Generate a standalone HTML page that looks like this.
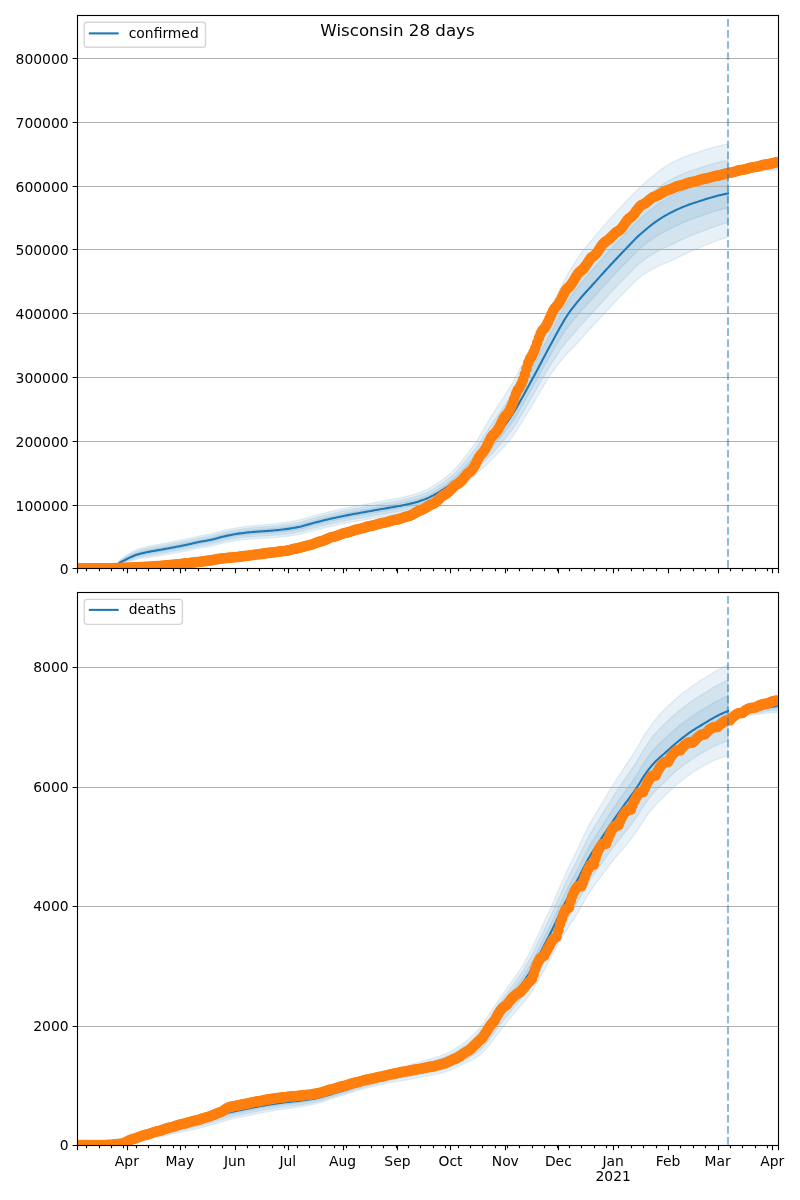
<!DOCTYPE html>
<html lang="en"><head><meta charset="utf-8"><title>Wisconsin 28 days</title>
<style>html,body{margin:0;padding:0;background:#fff}svg{display:block}</style></head>
<body>
<svg width="800" height="1200" viewBox="0 0 800 1200" font-family="'DejaVu Sans', 'Liberation Sans', sans-serif" font-size="13.89px" fill="#000">
<rect width="800" height="1200" fill="#fff"/>
<clipPath id="clip0"><rect x="77.35" y="15.00" width="700.29" height="553.40"/></clipPath>
<g clip-path="url(#clip0)">
<path d="M77.35 568.40 L79.12 568.40 L80.88 568.40 L82.65 568.40 L84.42 568.40 L86.19 568.40 L87.96 568.40 L89.73 568.39 L91.49 568.39 L93.26 568.39 L95.03 568.38 L96.80 568.38 L98.57 568.37 L100.34 568.37 L102.10 568.36 L103.87 568.35 L105.64 568.34 L107.41 568.33 L109.18 568.32 L110.95 568.31 L112.72 567.95 L114.48 566.58 L116.25 564.84 L118.02 562.23 L119.79 560.31 L121.56 558.88 L123.33 557.60 L125.09 556.34 L126.86 555.07 L128.63 553.86 L130.40 552.74 L132.17 551.72 L133.94 550.79 L135.70 549.98 L137.47 549.29 L139.24 548.72 L141.01 548.23 L142.78 547.78 L144.55 547.33 L146.31 546.89 L148.08 546.47 L149.85 546.08 L151.62 545.70 L153.39 545.35 L155.16 545.01 L156.93 544.68 L158.69 544.35 L160.46 544.03 L162.23 543.70 L164.00 543.37 L165.77 543.04 L167.54 542.71 L169.30 542.37 L171.07 542.04 L172.84 541.70 L174.61 541.35 L176.38 541.01 L178.15 540.66 L179.91 540.30 L181.68 539.95 L183.45 539.58 L185.22 539.22 L186.99 538.84 L188.76 538.46 L190.52 538.06 L192.29 537.64 L194.06 537.23 L195.83 536.81 L197.60 536.41 L199.37 536.03 L201.14 535.68 L202.90 535.36 L204.67 535.06 L206.44 534.76 L208.21 534.44 L209.98 534.09 L211.75 533.69 L213.51 533.25 L215.28 532.78 L217.05 532.29 L218.82 531.80 L220.59 531.32 L222.36 530.86 L224.12 530.42 L225.89 530.03 L227.66 529.65 L229.43 529.27 L231.20 528.90 L232.97 528.54 L234.73 528.20 L236.50 527.88 L238.27 527.58 L240.04 527.31 L241.81 527.06 L243.58 526.82 L245.35 526.59 L247.11 526.37 L248.88 526.17 L250.65 525.97 L252.42 525.78 L254.19 525.60 L255.96 525.42 L257.72 525.26 L259.49 525.11 L261.26 524.97 L263.03 524.82 L264.80 524.68 L266.57 524.53 L268.33 524.38 L270.10 524.21 L271.87 524.03 L273.64 523.84 L275.41 523.65 L277.18 523.46 L278.94 523.25 L280.71 523.03 L282.48 522.81 L284.25 522.57 L286.02 522.32 L287.79 522.04 L289.56 521.75 L291.32 521.45 L293.09 521.12 L294.86 520.78 L296.63 520.42 L298.40 520.05 L300.17 519.66 L301.93 519.24 L303.70 518.77 L305.47 518.27 L307.24 517.74 L309.01 517.20 L310.78 516.66 L312.54 516.14 L314.31 515.63 L316.08 515.16 L317.85 514.69 L319.62 514.22 L321.39 513.76 L323.15 513.31 L324.92 512.86 L326.69 512.42 L328.46 511.99 L330.23 511.57 L332.00 511.16 L333.77 510.75 L335.53 510.35 L337.30 509.96 L339.07 509.57 L340.84 509.19 L342.61 508.81 L344.38 508.43 L346.14 508.07 L347.91 507.70 L349.68 507.35 L351.45 506.99 L353.22 506.65 L354.99 506.32 L356.75 505.99 L358.52 505.66 L360.29 505.33 L362.06 505.01 L363.83 504.68 L365.60 504.35 L367.36 504.01 L369.13 503.67 L370.90 503.33 L372.67 502.99 L374.44 502.66 L376.21 502.32 L377.98 501.98 L379.74 501.65 L381.51 501.32 L383.28 501.00 L385.05 500.68 L386.82 500.37 L388.59 500.05 L390.35 499.73 L392.12 499.40 L393.89 499.06 L395.66 498.71 L397.43 498.35 L399.20 497.99 L400.96 497.63 L402.73 497.25 L404.50 496.86 L406.27 496.45 L408.04 496.01 L409.81 495.54 L411.57 495.05 L413.34 494.53 L415.11 493.99 L416.88 493.41 L418.65 492.81 L420.42 492.16 L422.19 491.48 L423.95 490.75 L425.72 489.98 L427.49 489.13 L429.26 488.21 L431.03 487.22 L432.80 486.17 L434.56 485.08 L436.33 483.94 L438.10 482.78 L439.87 481.59 L441.64 480.36 L443.41 479.05 L445.17 477.67 L446.94 476.22 L448.71 474.69 L450.48 473.09 L452.25 471.41 L454.02 469.66 L455.78 467.84 L457.55 465.91 L459.32 463.87 L461.09 461.75 L462.86 459.55 L464.63 457.30 L466.40 454.99 L468.16 452.64 L469.93 450.28 L471.70 447.90 L473.47 445.48 L475.24 442.97 L477.01 440.29 L478.77 437.46 L480.54 434.51 L482.31 431.48 L484.08 428.41 L485.85 425.33 L487.62 422.26 L489.38 419.25 L491.15 416.33 L492.92 413.52 L494.69 410.79 L496.46 408.06 L498.23 405.34 L499.99 402.61 L501.76 399.88 L503.53 397.17 L505.30 394.45 L507.07 391.69 L508.84 388.89 L510.61 386.01 L512.37 383.05 L514.14 379.95 L515.91 376.65 L517.68 373.25 L519.45 369.81 L521.22 366.41 L522.98 362.98 L524.75 359.53 L526.52 356.06 L528.29 352.58 L530.06 349.09 L531.83 345.59 L533.59 342.10 L535.36 338.58 L537.13 335.02 L538.90 331.44 L540.67 327.85 L542.44 324.26 L544.21 320.67 L545.97 317.10 L547.74 313.55 L549.51 310.04 L551.28 306.56 L553.05 303.03 L554.82 299.47 L556.58 295.89 L558.35 292.32 L560.12 288.78 L561.89 285.29 L563.66 281.83 L565.43 278.43 L567.19 275.14 L568.96 271.99 L570.73 268.95 L572.50 266.00 L574.27 263.14 L576.04 260.37 L577.80 257.71 L579.57 255.17 L581.34 252.73 L583.11 250.42 L584.88 248.24 L586.65 246.12 L588.42 244.02 L590.18 241.93 L591.95 239.84 L593.72 237.75 L595.49 235.65 L597.26 233.53 L599.03 231.43 L600.79 229.36 L602.56 227.30 L604.33 225.27 L606.10 223.25 L607.87 221.24 L609.64 219.26 L611.40 217.29 L613.17 215.34 L614.94 213.41 L616.71 211.49 L618.48 209.58 L620.25 207.69 L622.01 205.81 L623.78 203.94 L625.55 202.08 L627.32 200.21 L629.09 198.33 L630.86 196.44 L632.63 194.57 L634.39 192.74 L636.16 190.95 L637.93 189.23 L639.70 187.59 L641.47 186.01 L643.24 184.43 L645.00 182.86 L646.77 181.28 L648.54 179.72 L650.31 178.17 L652.08 176.65 L653.85 175.15 L655.61 173.69 L657.38 172.27 L659.15 170.90 L660.92 169.59 L662.69 168.33 L664.46 167.13 L666.22 165.98 L667.99 164.88 L669.76 163.83 L671.53 162.83 L673.30 161.89 L675.07 161.01 L676.84 160.18 L678.60 159.37 L680.37 158.59 L682.14 157.83 L683.91 157.10 L685.68 156.39 L687.45 155.72 L689.21 155.08 L690.98 154.46 L692.75 153.87 L694.52 153.28 L696.29 152.71 L698.06 152.13 L699.82 151.56 L701.59 150.98 L703.36 150.40 L705.13 149.83 L706.90 149.27 L708.67 148.72 L710.43 148.19 L712.20 147.68 L713.97 147.19 L715.74 146.71 L717.51 146.25 L719.28 145.81 L721.05 145.39 L722.81 145.00 L724.58 144.64 L726.35 144.31 L728.12 144.00 L728.12 236.94 L726.35 237.48 L724.58 238.03 L722.81 238.60 L721.05 239.20 L719.28 239.82 L717.51 240.47 L715.74 241.13 L713.97 241.80 L712.20 242.49 L710.43 243.18 L708.67 243.90 L706.90 244.62 L705.13 245.35 L703.36 246.09 L701.59 246.83 L699.82 247.57 L698.06 248.31 L696.29 249.06 L694.52 249.81 L692.75 250.58 L690.98 251.36 L689.21 252.15 L687.45 252.96 L685.68 253.78 L683.91 254.63 L682.14 255.49 L680.37 256.34 L678.60 257.20 L676.84 258.06 L675.07 258.91 L673.30 259.75 L671.53 260.55 L669.76 261.32 L667.99 262.08 L666.22 262.82 L664.46 263.55 L662.69 264.29 L660.92 265.04 L659.15 265.83 L657.38 266.65 L655.61 267.51 L653.85 268.41 L652.08 269.36 L650.31 270.35 L648.54 271.39 L646.77 272.49 L645.00 273.64 L643.24 274.84 L641.47 276.11 L639.70 277.45 L637.93 278.90 L636.16 280.50 L634.39 282.20 L632.63 283.95 L630.86 285.75 L629.09 287.57 L627.32 289.39 L625.55 291.20 L623.78 293.00 L622.01 294.82 L620.25 296.64 L618.48 298.47 L616.71 300.31 L614.94 302.16 L613.17 304.02 L611.40 305.89 L609.64 307.77 L607.87 309.66 L606.10 311.56 L604.33 313.47 L602.56 315.39 L600.79 317.32 L599.03 319.26 L597.26 321.21 L595.49 323.17 L593.72 325.11 L591.95 327.02 L590.18 328.92 L588.42 330.81 L586.65 332.70 L584.88 334.60 L583.11 336.52 L581.34 338.46 L579.57 340.43 L577.80 342.44 L576.04 344.48 L574.27 346.41 L572.50 348.26 L570.73 350.05 L568.96 351.81 L567.19 353.59 L565.43 355.48 L563.66 357.47 L561.89 359.54 L560.12 361.71 L558.35 363.96 L556.58 366.29 L554.82 368.69 L553.05 371.17 L551.28 373.72 L549.51 376.35 L547.74 379.12 L545.97 381.98 L544.21 384.88 L542.44 387.83 L540.67 390.80 L538.90 393.80 L537.13 396.79 L535.36 399.78 L533.59 402.74 L531.83 405.68 L530.06 408.63 L528.29 411.57 L526.52 414.51 L524.75 417.43 L522.98 420.32 L521.22 423.18 L519.45 426.00 L517.68 428.83 L515.91 431.61 L514.14 434.27 L512.37 436.72 L510.61 439.03 L508.84 441.22 L507.07 443.32 L505.30 445.34 L503.53 447.30 L501.76 449.23 L499.99 451.12 L498.23 453.00 L496.46 454.84 L494.69 456.65 L492.92 458.42 L491.15 460.17 L489.38 461.90 L487.62 463.60 L485.85 465.29 L484.08 466.96 L482.31 468.63 L480.54 470.29 L478.77 471.93 L477.01 473.57 L475.24 475.21 L473.47 476.83 L471.70 478.42 L469.93 480.00 L468.16 481.57 L466.40 483.15 L464.63 484.70 L462.86 486.24 L461.09 487.73 L459.32 489.17 L457.55 490.55 L455.78 491.86 L454.02 493.09 L452.25 494.28 L450.48 495.43 L448.71 496.54 L446.94 497.62 L445.17 498.65 L443.41 499.66 L441.64 500.63 L439.87 501.57 L438.10 502.49 L436.33 503.39 L434.56 504.27 L432.80 505.12 L431.03 505.92 L429.26 506.68 L427.49 507.37 L425.72 508.00 L423.95 508.56 L422.19 509.09 L420.42 509.58 L418.65 510.04 L416.88 510.48 L415.11 510.89 L413.34 511.28 L411.57 511.66 L409.81 512.03 L408.04 512.38 L406.27 512.71 L404.50 513.03 L402.73 513.35 L400.96 513.66 L399.20 513.97 L397.43 514.28 L395.66 514.59 L393.89 514.89 L392.12 515.19 L390.35 515.48 L388.59 515.76 L386.82 516.04 L385.05 516.32 L383.28 516.60 L381.51 516.89 L379.74 517.18 L377.98 517.49 L376.21 517.79 L374.44 518.10 L372.67 518.41 L370.90 518.72 L369.13 519.04 L367.36 519.35 L365.60 519.66 L363.83 519.97 L362.06 520.28 L360.29 520.58 L358.52 520.89 L356.75 521.20 L354.99 521.51 L353.22 521.82 L351.45 522.14 L349.68 522.48 L347.91 522.82 L346.14 523.16 L344.38 523.51 L342.61 523.87 L340.84 524.23 L339.07 524.59 L337.30 524.96 L335.53 525.34 L333.77 525.72 L332.00 526.11 L330.23 526.50 L328.46 526.90 L326.69 527.31 L324.92 527.73 L323.15 528.16 L321.39 528.59 L319.62 529.03 L317.85 529.47 L316.08 529.92 L314.31 530.37 L312.54 530.85 L310.78 531.35 L309.01 531.86 L307.24 532.37 L305.47 532.87 L303.70 533.34 L301.93 533.78 L300.17 534.17 L298.40 534.52 L296.63 534.85 L294.86 535.17 L293.09 535.47 L291.32 535.75 L289.56 536.01 L287.79 536.25 L286.02 536.47 L284.25 536.68 L282.48 536.86 L280.71 537.04 L278.94 537.20 L277.18 537.35 L275.41 537.49 L273.64 537.62 L271.87 537.75 L270.10 537.87 L268.33 537.98 L266.57 538.07 L264.80 538.16 L263.03 538.25 L261.26 538.33 L259.49 538.42 L257.72 538.51 L255.96 538.61 L254.19 538.73 L252.42 538.86 L250.65 538.99 L248.88 539.14 L247.11 539.29 L245.35 539.46 L243.58 539.64 L241.81 539.83 L240.04 540.03 L238.27 540.26 L236.50 540.52 L234.73 540.80 L232.97 541.10 L231.20 541.42 L229.43 541.76 L227.66 542.10 L225.89 542.46 L224.12 542.83 L222.36 543.23 L220.59 543.67 L218.82 544.13 L217.05 544.60 L215.28 545.06 L213.51 545.51 L211.75 545.93 L209.98 546.30 L208.21 546.64 L206.44 546.94 L204.67 547.22 L202.90 547.51 L201.14 547.81 L199.37 548.14 L197.60 548.50 L195.83 548.88 L194.06 549.27 L192.29 549.67 L190.52 550.06 L188.76 550.44 L186.99 550.81 L185.22 551.16 L183.45 551.50 L181.68 551.83 L179.91 552.17 L178.15 552.49 L176.38 552.81 L174.61 553.13 L172.84 553.44 L171.07 553.74 L169.30 554.04 L167.54 554.33 L165.77 554.62 L164.00 554.91 L162.23 555.19 L160.46 555.47 L158.69 555.73 L156.93 555.98 L155.16 556.23 L153.39 556.48 L151.62 556.73 L149.85 556.99 L148.08 557.27 L146.31 557.55 L144.55 557.84 L142.78 558.13 L141.01 558.41 L139.24 558.72 L137.47 559.09 L135.70 559.56 L133.94 560.13 L132.17 560.71 L130.40 561.26 L128.63 561.82 L126.86 562.40 L125.09 562.99 L123.33 563.52 L121.56 564.04 L119.79 564.72 L118.02 565.80 L116.25 567.45 L114.48 568.14 L112.72 568.41 L110.95 568.31 L109.18 568.32 L107.41 568.33 L105.64 568.34 L103.87 568.35 L102.10 568.36 L100.34 568.37 L98.57 568.37 L96.80 568.38 L95.03 568.38 L93.26 568.39 L91.49 568.39 L89.73 568.39 L87.96 568.40 L86.19 568.40 L84.42 568.40 L82.65 568.40 L80.88 568.40 L79.12 568.40 L77.35 568.40Z" fill="#1f77b4" fill-opacity="0.1" stroke="#1f77b4" stroke-opacity="0.1" stroke-width="1.39" stroke-linejoin="round"/>
<path d="M77.35 568.40 L79.12 568.40 L80.88 568.40 L82.65 568.40 L84.42 568.40 L86.19 568.40 L87.96 568.40 L89.73 568.39 L91.49 568.39 L93.26 568.39 L95.03 568.38 L96.80 568.38 L98.57 568.37 L100.34 568.37 L102.10 568.36 L103.87 568.35 L105.64 568.34 L107.41 568.33 L109.18 568.32 L110.95 568.31 L112.72 568.04 L114.48 566.87 L116.25 565.32 L118.02 562.89 L119.79 561.12 L121.56 559.82 L123.33 558.67 L125.09 557.53 L126.86 556.38 L128.63 555.27 L130.40 554.24 L132.17 553.30 L133.94 552.42 L135.70 551.64 L137.47 550.98 L139.24 550.44 L141.01 549.97 L142.78 549.54 L144.55 549.11 L146.31 548.69 L148.08 548.29 L149.85 547.91 L151.62 547.55 L153.39 547.20 L155.16 546.87 L156.93 546.55 L158.69 546.24 L160.46 545.92 L162.23 545.60 L164.00 545.27 L165.77 544.94 L167.54 544.62 L169.30 544.29 L171.07 543.95 L172.84 543.62 L174.61 543.28 L176.38 542.93 L178.15 542.58 L179.91 542.23 L181.68 541.88 L183.45 541.52 L185.22 541.15 L186.99 540.78 L188.76 540.40 L190.52 540.00 L192.29 539.58 L194.06 539.17 L195.83 538.76 L197.60 538.36 L199.37 537.98 L201.14 537.63 L202.90 537.31 L204.67 537.01 L206.44 536.71 L208.21 536.39 L209.98 536.04 L211.75 535.64 L213.51 535.21 L215.28 534.74 L217.05 534.26 L218.82 533.77 L220.59 533.29 L222.36 532.82 L224.12 532.39 L225.89 532.00 L227.66 531.62 L229.43 531.25 L231.20 530.88 L232.97 530.53 L234.73 530.19 L236.50 529.88 L238.27 529.58 L240.04 529.32 L241.81 529.07 L243.58 528.84 L245.35 528.62 L247.11 528.41 L248.88 528.21 L250.65 528.02 L252.42 527.84 L254.19 527.67 L255.96 527.50 L257.72 527.35 L259.49 527.21 L261.26 527.07 L263.03 526.94 L264.80 526.81 L266.57 526.67 L268.33 526.52 L270.10 526.36 L271.87 526.19 L273.64 526.02 L275.41 525.84 L277.18 525.65 L278.94 525.46 L280.71 525.25 L282.48 525.03 L284.25 524.80 L286.02 524.56 L287.79 524.30 L289.56 524.02 L291.32 523.72 L293.09 523.40 L294.86 523.07 L296.63 522.72 L298.40 522.35 L300.17 521.97 L301.93 521.56 L303.70 521.09 L305.47 520.60 L307.24 520.08 L309.01 519.54 L310.78 519.01 L312.54 518.49 L314.31 517.99 L316.08 517.52 L317.85 517.06 L319.62 516.59 L321.39 516.14 L323.15 515.69 L324.92 515.25 L326.69 514.81 L328.46 514.39 L330.23 513.97 L332.00 513.57 L333.77 513.16 L335.53 512.77 L337.30 512.38 L339.07 511.99 L340.84 511.61 L342.61 511.24 L344.38 510.87 L346.14 510.51 L347.91 510.15 L349.68 509.79 L351.45 509.45 L353.22 509.11 L354.99 508.78 L356.75 508.45 L358.52 508.13 L360.29 507.81 L362.06 507.49 L363.83 507.16 L365.60 506.84 L367.36 506.51 L369.13 506.17 L370.90 505.84 L372.67 505.51 L374.44 505.17 L376.21 504.84 L377.98 504.51 L379.74 504.19 L381.51 503.87 L383.28 503.55 L385.05 503.25 L386.82 502.94 L388.59 502.63 L390.35 502.31 L392.12 501.99 L393.89 501.66 L395.66 501.32 L397.43 500.98 L399.20 500.63 L400.96 500.28 L402.73 499.91 L404.50 499.53 L406.27 499.13 L408.04 498.71 L409.81 498.27 L411.57 497.79 L413.34 497.30 L415.11 496.78 L416.88 496.23 L418.65 495.65 L420.42 495.03 L422.19 494.38 L423.95 493.69 L425.72 492.95 L427.49 492.13 L429.26 491.25 L431.03 490.30 L432.80 489.29 L434.56 488.24 L436.33 487.15 L438.10 486.03 L439.87 484.88 L441.64 483.71 L443.41 482.47 L445.17 481.16 L446.94 479.79 L448.71 478.35 L450.48 476.86 L452.25 475.29 L454.02 473.66 L455.78 471.97 L457.55 470.17 L459.32 468.28 L461.09 466.31 L462.86 464.27 L464.63 462.17 L466.40 460.03 L468.16 457.86 L469.93 455.67 L471.70 453.47 L473.47 451.23 L475.24 448.93 L477.01 446.49 L478.77 443.95 L480.54 441.31 L482.31 438.62 L484.08 435.89 L485.85 433.14 L487.62 430.40 L489.38 427.69 L491.15 425.02 L492.92 422.42 L494.69 419.86 L496.46 417.30 L498.23 414.73 L499.99 412.14 L501.76 409.56 L503.53 406.97 L505.30 404.37 L507.07 401.73 L508.84 399.04 L510.61 396.27 L512.37 393.41 L514.14 390.42 L515.91 387.23 L517.68 383.93 L519.45 380.59 L521.22 377.28 L522.98 373.94 L524.75 370.57 L526.52 367.19 L528.29 363.79 L530.06 360.37 L531.83 356.96 L533.59 353.54 L535.36 350.09 L537.13 346.61 L538.90 343.11 L540.67 339.59 L542.44 336.07 L544.21 332.56 L545.97 329.06 L547.74 325.60 L549.51 322.17 L551.28 318.78 L553.05 315.34 L554.82 311.87 L556.58 308.39 L558.35 304.92 L560.12 301.49 L561.89 298.12 L563.66 294.80 L565.43 291.57 L567.19 288.45 L568.96 285.49 L570.73 282.64 L572.50 279.88 L574.27 277.21 L576.04 274.62 L577.80 272.13 L579.57 269.73 L581.34 267.43 L583.11 265.22 L584.88 263.10 L586.65 261.04 L588.42 258.99 L590.18 256.95 L591.95 254.91 L593.72 252.86 L595.49 250.80 L597.26 248.73 L599.03 246.67 L600.79 244.63 L602.56 242.61 L604.33 240.60 L606.10 238.61 L607.87 236.64 L609.64 234.68 L611.40 232.73 L613.17 230.80 L614.94 228.88 L616.71 226.98 L618.48 225.08 L620.25 223.20 L622.01 221.33 L623.78 219.47 L625.55 217.61 L627.32 215.75 L629.09 213.87 L630.86 211.98 L632.63 210.12 L634.39 208.29 L636.16 206.51 L637.93 204.79 L639.70 203.16 L641.47 201.59 L643.24 200.03 L645.00 198.48 L646.77 196.94 L648.54 195.41 L650.31 193.91 L652.08 192.44 L653.85 191.00 L655.61 189.59 L657.38 188.23 L659.15 186.92 L660.92 185.66 L662.69 184.45 L664.46 183.30 L666.22 182.20 L667.99 181.13 L669.76 180.12 L671.53 179.15 L673.30 178.22 L675.07 177.35 L676.84 176.51 L678.60 175.71 L680.37 174.92 L682.14 174.17 L683.91 173.43 L685.68 172.73 L687.45 172.06 L689.21 171.42 L690.98 170.80 L692.75 170.20 L694.52 169.62 L696.29 169.04 L698.06 168.47 L699.82 167.89 L701.59 167.31 L703.36 166.74 L705.13 166.17 L706.90 165.61 L708.67 165.06 L710.43 164.53 L712.20 164.02 L713.97 163.53 L715.74 163.05 L717.51 162.58 L719.28 162.14 L721.05 161.73 L722.81 161.34 L724.58 160.98 L726.35 160.64 L728.12 160.33 L728.12 222.61 L726.35 223.07 L724.58 223.55 L722.81 224.05 L721.05 224.58 L719.28 225.13 L717.51 225.71 L715.74 226.31 L713.97 226.92 L712.20 227.54 L710.43 228.17 L708.67 228.82 L706.90 229.49 L705.13 230.17 L703.36 230.85 L701.59 231.54 L699.82 232.22 L698.06 232.91 L696.29 233.60 L694.52 234.29 L692.75 235.00 L690.98 235.72 L689.21 236.45 L687.45 237.20 L685.68 237.98 L683.91 238.78 L682.14 239.59 L680.37 240.42 L678.60 241.25 L676.84 242.10 L675.07 242.94 L673.30 243.79 L671.53 244.62 L669.76 245.44 L667.99 246.26 L666.22 247.08 L664.46 247.91 L662.69 248.74 L660.92 249.61 L659.15 250.52 L657.38 251.47 L655.61 252.45 L653.85 253.48 L652.08 254.56 L650.31 255.67 L648.54 256.83 L646.77 258.04 L645.00 259.30 L643.24 260.60 L641.47 261.96 L639.70 263.36 L637.93 264.87 L636.16 266.50 L634.39 268.23 L632.63 270.00 L630.86 271.82 L629.09 273.66 L627.32 275.50 L625.55 277.32 L623.78 279.14 L622.01 280.96 L620.25 282.80 L618.48 284.64 L616.71 286.49 L614.94 288.34 L613.17 290.21 L611.40 292.09 L609.64 293.98 L607.87 295.87 L606.10 297.78 L604.33 299.70 L602.56 301.62 L600.79 303.56 L599.03 305.51 L597.26 307.47 L595.49 309.44 L593.72 311.39 L591.95 313.32 L590.18 315.23 L588.42 317.14 L586.65 319.05 L584.88 320.97 L583.11 322.90 L581.34 324.87 L579.57 326.86 L577.80 328.90 L576.04 330.97 L574.27 333.00 L572.50 334.99 L570.73 336.97 L568.96 338.96 L567.19 341.01 L565.43 343.19 L563.66 345.48 L561.89 347.87 L560.12 350.36 L558.35 352.92 L556.58 355.56 L554.82 358.25 L553.05 360.99 L551.28 363.77 L549.51 366.60 L547.74 369.53 L545.97 372.53 L544.21 375.58 L542.44 378.66 L540.67 381.77 L538.90 384.88 L537.13 388.00 L535.36 391.09 L533.59 394.17 L531.83 397.22 L530.06 400.27 L528.29 403.32 L526.52 406.35 L524.75 409.37 L522.98 412.36 L521.22 415.31 L519.45 418.24 L517.68 421.17 L515.91 424.05 L514.14 426.82 L512.37 429.38 L510.61 431.79 L508.84 434.10 L507.07 436.32 L505.30 438.47 L503.53 440.56 L501.76 442.62 L499.99 444.65 L498.23 446.66 L496.46 448.64 L494.69 450.59 L492.92 452.51 L491.15 454.40 L489.38 456.26 L487.62 458.10 L485.85 459.92 L484.08 461.72 L482.31 463.51 L480.54 465.28 L478.77 467.04 L477.01 468.79 L475.24 470.52 L473.47 472.23 L471.70 473.92 L469.93 475.58 L468.16 477.24 L466.40 478.90 L464.63 480.53 L462.86 482.14 L461.09 483.71 L459.32 485.23 L457.55 486.69 L455.78 488.06 L454.02 489.36 L452.25 490.62 L450.48 491.83 L448.71 493.00 L446.94 494.13 L445.17 495.22 L443.41 496.27 L441.64 497.29 L439.87 498.27 L438.10 499.23 L436.33 500.18 L434.56 501.10 L432.80 501.98 L431.03 502.83 L429.26 503.62 L427.49 504.35 L425.72 505.02 L423.95 505.62 L422.19 506.18 L420.42 506.70 L418.65 507.19 L416.88 507.66 L415.11 508.10 L413.34 508.52 L411.57 508.92 L409.81 509.31 L408.04 509.68 L406.27 510.03 L404.50 510.37 L402.73 510.70 L400.96 511.02 L399.20 511.33 L397.43 511.65 L395.66 511.96 L393.89 512.27 L392.12 512.57 L390.35 512.87 L388.59 513.15 L386.82 513.44 L385.05 513.72 L383.28 514.01 L381.51 514.30 L379.74 514.60 L377.98 514.90 L376.21 515.21 L374.44 515.52 L372.67 515.84 L370.90 516.15 L369.13 516.47 L367.36 516.78 L365.60 517.10 L363.83 517.41 L362.06 517.72 L360.29 518.03 L358.52 518.33 L356.75 518.64 L354.99 518.95 L353.22 519.27 L351.45 519.60 L349.68 519.93 L347.91 520.27 L346.14 520.62 L344.38 520.97 L342.61 521.33 L340.84 521.69 L339.07 522.06 L337.30 522.43 L335.53 522.81 L333.77 523.19 L332.00 523.58 L330.23 523.98 L328.46 524.38 L326.69 524.79 L324.92 525.21 L323.15 525.64 L321.39 526.08 L319.62 526.52 L317.85 526.96 L316.08 527.41 L314.31 527.87 L312.54 528.35 L310.78 528.85 L309.01 529.36 L307.24 529.88 L305.47 530.38 L303.70 530.86 L301.93 531.30 L300.17 531.69 L298.40 532.05 L296.63 532.39 L294.86 532.71 L293.09 533.01 L291.32 533.30 L289.56 533.57 L287.79 533.82 L286.02 534.05 L284.25 534.26 L282.48 534.45 L280.71 534.63 L278.94 534.80 L277.18 534.96 L275.41 535.11 L273.64 535.25 L271.87 535.39 L270.10 535.52 L268.33 535.64 L266.57 535.74 L264.80 535.84 L263.03 535.93 L261.26 536.03 L259.49 536.12 L257.72 536.23 L255.96 536.34 L254.19 536.47 L252.42 536.60 L250.65 536.75 L248.88 536.90 L247.11 537.07 L245.35 537.24 L243.58 537.43 L241.81 537.63 L240.04 537.84 L238.27 538.08 L236.50 538.34 L234.73 538.63 L232.97 538.94 L231.20 539.27 L229.43 539.61 L227.66 539.97 L225.89 540.33 L224.12 540.70 L222.36 541.12 L220.59 541.56 L218.82 542.02 L217.05 542.50 L215.28 542.97 L213.51 543.42 L211.75 543.84 L209.98 544.23 L208.21 544.56 L206.44 544.87 L204.67 545.16 L202.90 545.45 L201.14 545.75 L199.37 546.09 L197.60 546.45 L195.83 546.84 L194.06 547.24 L192.29 547.64 L190.52 548.04 L188.76 548.43 L186.99 548.79 L185.22 549.15 L183.45 549.50 L181.68 549.84 L179.91 550.18 L178.15 550.51 L176.38 550.84 L174.61 551.16 L172.84 551.48 L171.07 551.79 L169.30 552.10 L167.54 552.40 L165.77 552.70 L164.00 553.00 L162.23 553.30 L160.46 553.58 L158.69 553.86 L156.93 554.13 L155.16 554.39 L153.39 554.66 L151.62 554.94 L149.85 555.22 L148.08 555.52 L146.31 555.83 L144.55 556.15 L142.78 556.47 L141.01 556.79 L139.24 557.14 L137.47 557.54 L135.70 558.06 L133.94 558.68 L132.17 559.32 L130.40 559.95 L128.63 560.60 L126.86 561.29 L125.09 561.98 L123.33 562.63 L121.56 563.28 L119.79 564.07 L118.02 565.28 L116.25 567.07 L114.48 567.91 L112.72 568.35 L110.95 568.31 L109.18 568.32 L107.41 568.33 L105.64 568.34 L103.87 568.35 L102.10 568.36 L100.34 568.37 L98.57 568.37 L96.80 568.38 L95.03 568.38 L93.26 568.39 L91.49 568.39 L89.73 568.39 L87.96 568.40 L86.19 568.40 L84.42 568.40 L82.65 568.40 L80.88 568.40 L79.12 568.40 L77.35 568.40Z" fill="#1f77b4" fill-opacity="0.1" stroke="#1f77b4" stroke-opacity="0.1" stroke-width="1.39" stroke-linejoin="round"/>
<path d="M77.35 568.40 L79.12 568.40 L80.88 568.40 L82.65 568.40 L84.42 568.40 L86.19 568.40 L87.96 568.40 L89.73 568.39 L91.49 568.39 L93.26 568.39 L95.03 568.38 L96.80 568.38 L98.57 568.37 L100.34 568.37 L102.10 568.36 L103.87 568.35 L105.64 568.34 L107.41 568.33 L109.18 568.32 L110.95 568.31 L112.72 568.13 L114.48 567.17 L116.25 565.82 L118.02 563.57 L119.79 561.95 L121.56 560.78 L123.33 559.77 L125.09 558.76 L126.86 557.72 L128.63 556.72 L130.40 555.78 L132.17 554.92 L133.94 554.09 L135.70 553.35 L137.47 552.72 L139.24 552.21 L141.01 551.76 L142.78 551.35 L144.55 550.94 L146.31 550.54 L148.08 550.16 L149.85 549.80 L151.62 549.45 L153.39 549.12 L155.16 548.80 L156.93 548.49 L158.69 548.18 L160.46 547.87 L162.23 547.55 L164.00 547.23 L165.77 546.91 L167.54 546.58 L169.30 546.25 L171.07 545.93 L172.84 545.59 L174.61 545.25 L176.38 544.91 L178.15 544.57 L179.91 544.22 L181.68 543.86 L183.45 543.51 L185.22 543.14 L186.99 542.77 L188.76 542.39 L190.52 541.99 L192.29 541.58 L194.06 541.17 L195.83 540.76 L197.60 540.36 L199.37 539.98 L201.14 539.64 L202.90 539.32 L204.67 539.02 L206.44 538.72 L208.21 538.40 L209.98 538.05 L211.75 537.66 L213.51 537.22 L215.28 536.76 L217.05 536.28 L218.82 535.79 L220.59 535.31 L222.36 534.85 L224.12 534.42 L225.89 534.04 L227.66 533.66 L229.43 533.29 L231.20 532.92 L232.97 532.58 L234.73 532.24 L236.50 531.93 L238.27 531.65 L240.04 531.39 L241.81 531.15 L243.58 530.92 L245.35 530.71 L247.11 530.51 L248.88 530.32 L250.65 530.14 L252.42 529.96 L254.19 529.80 L255.96 529.64 L257.72 529.50 L259.49 529.37 L261.26 529.24 L263.03 529.12 L264.80 529.00 L266.57 528.87 L268.33 528.73 L270.10 528.59 L271.87 528.43 L273.64 528.26 L275.41 528.09 L277.18 527.92 L278.94 527.73 L280.71 527.53 L282.48 527.33 L284.25 527.11 L286.02 526.87 L287.79 526.62 L289.56 526.35 L291.32 526.06 L293.09 525.75 L294.86 525.42 L296.63 525.08 L298.40 524.73 L300.17 524.35 L301.93 523.94 L303.70 523.49 L305.47 523.00 L307.24 522.48 L309.01 521.96 L310.78 521.43 L312.54 520.91 L314.31 520.42 L316.08 519.96 L317.85 519.50 L319.62 519.04 L321.39 518.59 L323.15 518.15 L324.92 517.71 L326.69 517.28 L328.46 516.86 L330.23 516.45 L332.00 516.04 L333.77 515.65 L335.53 515.25 L337.30 514.87 L339.07 514.49 L340.84 514.11 L342.61 513.74 L344.38 513.38 L346.14 513.02 L347.91 512.66 L349.68 512.31 L351.45 511.97 L353.22 511.64 L354.99 511.31 L356.75 510.99 L358.52 510.68 L360.29 510.36 L362.06 510.04 L363.83 509.72 L365.60 509.40 L367.36 509.08 L369.13 508.75 L370.90 508.42 L372.67 508.10 L374.44 507.77 L376.21 507.45 L377.98 507.12 L379.74 506.81 L381.51 506.49 L383.28 506.19 L385.05 505.88 L386.82 505.58 L388.59 505.28 L390.35 504.98 L392.12 504.67 L393.89 504.35 L395.66 504.01 L397.43 503.68 L399.20 503.34 L400.96 503.00 L402.73 502.65 L404.50 502.29 L406.27 501.90 L408.04 501.50 L409.81 501.07 L411.57 500.62 L413.34 500.15 L415.11 499.65 L416.88 499.13 L418.65 498.57 L420.42 497.99 L422.19 497.37 L423.95 496.71 L425.72 496.00 L427.49 495.23 L429.26 494.38 L431.03 493.47 L432.80 492.50 L434.56 491.49 L436.33 490.45 L438.10 489.37 L439.87 488.28 L441.64 487.16 L443.41 485.98 L445.17 484.75 L446.94 483.47 L448.71 482.13 L450.48 480.74 L452.25 479.29 L454.02 477.79 L455.78 476.22 L457.55 474.57 L459.32 472.82 L461.09 471.01 L462.86 469.12 L464.63 467.19 L466.40 465.22 L468.16 463.23 L469.93 461.22 L471.70 459.20 L473.47 457.16 L475.24 455.06 L477.01 452.88 L478.77 450.63 L480.54 448.32 L482.31 445.97 L484.08 443.59 L485.85 441.19 L487.62 438.78 L489.38 436.37 L491.15 433.97 L492.92 431.59 L494.69 429.22 L496.46 426.82 L498.23 424.41 L499.99 421.97 L501.76 419.52 L503.53 417.07 L505.30 414.59 L507.07 412.08 L508.84 409.50 L510.61 406.84 L512.37 404.09 L514.14 401.21 L515.91 398.13 L517.68 394.93 L519.45 391.70 L521.22 388.48 L522.98 385.23 L524.75 381.96 L526.52 378.65 L528.29 375.34 L530.06 372.00 L531.83 368.67 L533.59 365.32 L535.36 361.95 L537.13 358.55 L538.90 355.12 L540.67 351.68 L542.44 348.24 L544.21 344.81 L545.97 341.39 L547.74 338.01 L549.51 334.67 L551.28 331.37 L553.05 328.03 L554.82 324.65 L556.58 321.27 L558.35 317.91 L560.12 314.59 L561.89 311.34 L563.66 308.17 L565.43 305.10 L567.19 302.16 L568.96 299.39 L570.73 296.74 L572.50 294.18 L574.27 291.70 L576.04 289.31 L577.80 286.99 L579.57 284.74 L581.34 282.57 L583.11 280.46 L584.88 278.42 L586.65 276.41 L588.42 274.41 L590.18 272.42 L591.95 270.43 L593.72 268.44 L595.49 266.42 L597.26 264.39 L599.03 262.37 L600.79 260.37 L602.56 258.38 L604.33 256.40 L606.10 254.44 L607.87 252.50 L609.64 250.56 L611.40 248.64 L613.17 246.73 L614.94 244.83 L616.71 242.93 L618.48 241.05 L620.25 239.18 L622.01 237.32 L623.78 235.46 L625.55 233.62 L627.32 231.75 L629.09 229.88 L630.86 228.00 L632.63 226.14 L634.39 224.31 L636.16 222.53 L637.93 220.82 L639.70 219.20 L641.47 217.64 L643.24 216.10 L645.00 214.57 L646.77 213.07 L648.54 211.58 L650.31 210.13 L652.08 208.71 L653.85 207.32 L655.61 205.98 L657.38 204.67 L659.15 203.42 L660.92 202.21 L662.69 201.06 L664.46 199.97 L666.22 198.91 L667.99 197.88 L669.76 196.90 L671.53 195.95 L673.30 195.05 L675.07 194.18 L676.84 193.34 L678.60 192.54 L680.37 191.75 L682.14 191.00 L683.91 190.26 L685.68 189.56 L687.45 188.89 L689.21 188.25 L690.98 187.63 L692.75 187.03 L694.52 186.45 L696.29 185.87 L698.06 185.30 L699.82 184.72 L701.59 184.14 L703.36 183.57 L705.13 183.00 L706.90 182.44 L708.67 181.89 L710.43 181.36 L712.20 180.85 L713.97 180.36 L715.74 179.88 L717.51 179.41 L719.28 178.97 L721.05 178.56 L722.81 178.17 L724.58 177.81 L726.35 177.47 L728.12 177.16 L728.12 207.83 L726.35 208.22 L724.58 208.63 L722.81 209.06 L721.05 209.51 L719.28 210.00 L717.51 210.51 L715.74 211.03 L713.97 211.58 L712.20 212.13 L710.43 212.70 L708.67 213.30 L706.90 213.90 L705.13 214.52 L703.36 215.15 L701.59 215.78 L699.82 216.41 L698.06 217.04 L696.29 217.67 L694.52 218.30 L692.75 218.95 L690.98 219.60 L689.21 220.28 L687.45 220.98 L685.68 221.70 L683.91 222.45 L682.14 223.22 L680.37 224.01 L678.60 224.82 L676.84 225.65 L675.07 226.49 L673.30 227.34 L671.53 228.20 L669.76 229.07 L667.99 229.96 L666.22 230.86 L664.46 231.79 L662.69 232.73 L660.92 233.71 L659.15 234.74 L657.38 235.82 L655.61 236.94 L653.85 238.10 L652.08 239.30 L650.31 240.55 L648.54 241.84 L646.77 243.16 L645.00 244.53 L643.24 245.93 L641.47 247.37 L639.70 248.85 L637.93 250.42 L636.16 252.08 L634.39 253.83 L632.63 255.63 L630.86 257.47 L629.09 259.33 L627.32 261.18 L625.55 263.02 L623.78 264.85 L622.01 266.69 L620.25 268.54 L618.48 270.39 L616.71 272.25 L614.94 274.11 L613.17 275.99 L611.40 277.87 L609.64 279.77 L607.87 281.67 L606.10 283.59 L604.33 285.51 L602.56 287.45 L600.79 289.39 L599.03 291.35 L597.26 293.32 L595.49 295.30 L593.72 297.26 L591.95 299.20 L590.18 301.13 L588.42 303.05 L586.65 304.98 L584.88 306.92 L583.11 308.87 L581.34 310.86 L579.57 312.88 L577.80 314.95 L576.04 317.06 L574.27 319.18 L572.50 321.32 L570.73 323.50 L568.96 325.73 L567.19 328.05 L565.43 330.52 L563.66 333.13 L561.89 335.84 L560.12 338.66 L558.35 341.55 L556.58 344.50 L554.82 347.50 L553.05 350.51 L551.28 353.53 L549.51 356.55 L547.74 359.65 L545.97 362.80 L544.21 366.00 L542.44 369.22 L540.67 372.46 L538.90 375.70 L537.13 378.93 L535.36 382.15 L533.59 385.33 L531.83 388.49 L530.06 391.65 L528.29 394.81 L526.52 397.94 L524.75 401.06 L522.98 404.15 L521.22 407.21 L519.45 410.24 L517.68 413.27 L515.91 416.27 L514.14 419.14 L512.37 421.81 L510.61 424.34 L508.84 426.77 L507.07 429.11 L505.30 431.39 L503.53 433.61 L501.76 435.81 L499.99 437.98 L498.23 440.14 L496.46 442.26 L494.69 444.35 L492.92 446.41 L491.15 448.44 L489.38 450.45 L487.62 452.43 L485.85 454.38 L484.08 456.32 L482.31 458.23 L480.54 460.13 L478.77 462.01 L477.01 463.86 L475.24 465.69 L473.47 467.50 L471.70 469.28 L469.93 471.03 L468.16 472.77 L466.40 474.52 L464.63 476.24 L462.86 477.93 L461.09 479.58 L459.32 481.17 L457.55 482.70 L455.78 484.15 L454.02 485.52 L452.25 486.84 L450.48 488.11 L448.71 489.34 L446.94 490.53 L445.17 491.68 L443.41 492.78 L441.64 493.85 L439.87 494.87 L438.10 495.88 L436.33 496.87 L434.56 497.83 L432.80 498.75 L431.03 499.64 L429.26 500.47 L427.49 501.25 L425.72 501.95 L423.95 502.58 L422.19 503.18 L420.42 503.74 L418.65 504.26 L416.88 504.76 L415.11 505.23 L413.34 505.68 L411.57 506.10 L409.81 506.51 L408.04 506.90 L406.27 507.27 L404.50 507.62 L402.73 507.96 L400.96 508.29 L399.20 508.62 L397.43 508.94 L395.66 509.26 L393.89 509.57 L392.12 509.88 L390.35 510.18 L388.59 510.47 L386.82 510.76 L385.05 511.04 L383.28 511.33 L381.51 511.63 L379.74 511.93 L377.98 512.24 L376.21 512.55 L374.44 512.87 L372.67 513.18 L370.90 513.50 L369.13 513.82 L367.36 514.14 L365.60 514.46 L363.83 514.77 L362.06 515.08 L360.29 515.39 L358.52 515.70 L356.75 516.01 L354.99 516.32 L353.22 516.64 L351.45 516.97 L349.68 517.31 L347.91 517.65 L346.14 518.00 L344.38 518.35 L342.61 518.71 L340.84 519.08 L339.07 519.45 L337.30 519.82 L335.53 520.20 L333.77 520.59 L332.00 520.98 L330.23 521.37 L328.46 521.78 L326.69 522.19 L324.92 522.62 L323.15 523.05 L321.39 523.48 L319.62 523.93 L317.85 524.38 L316.08 524.83 L314.31 525.29 L312.54 525.77 L310.78 526.28 L309.01 526.79 L307.24 527.31 L305.47 527.82 L303.70 528.30 L301.93 528.74 L300.17 529.14 L298.40 529.50 L296.63 529.85 L294.86 530.17 L293.09 530.48 L291.32 530.78 L289.56 531.05 L287.79 531.31 L286.02 531.55 L284.25 531.76 L282.48 531.97 L280.71 532.15 L278.94 532.33 L277.18 532.50 L275.41 532.66 L273.64 532.81 L271.87 532.95 L270.10 533.09 L268.33 533.22 L266.57 533.34 L264.80 533.45 L263.03 533.55 L261.26 533.65 L259.49 533.76 L257.72 533.87 L255.96 534.00 L254.19 534.13 L252.42 534.28 L250.65 534.44 L248.88 534.60 L247.11 534.77 L245.35 534.96 L243.58 535.15 L241.81 535.36 L240.04 535.59 L238.27 535.83 L236.50 536.10 L234.73 536.40 L232.97 536.72 L231.20 537.06 L229.43 537.41 L227.66 537.77 L225.89 538.14 L224.12 538.52 L222.36 538.93 L220.59 539.39 L218.82 539.86 L217.05 540.34 L215.28 540.81 L213.51 541.27 L211.75 541.70 L209.98 542.08 L208.21 542.43 L206.44 542.74 L204.67 543.03 L202.90 543.33 L201.14 543.64 L199.37 543.98 L197.60 544.35 L195.83 544.74 L194.06 545.14 L192.29 545.55 L190.52 545.95 L188.76 546.35 L186.99 546.72 L185.22 547.08 L183.45 547.44 L181.68 547.79 L179.91 548.13 L178.15 548.47 L176.38 548.81 L174.61 549.14 L172.84 549.47 L171.07 549.79 L169.30 550.10 L167.54 550.42 L165.77 550.73 L164.00 551.04 L162.23 551.34 L160.46 551.64 L158.69 551.93 L156.93 552.22 L155.16 552.50 L153.39 552.79 L151.62 553.09 L149.85 553.40 L148.08 553.72 L146.31 554.06 L144.55 554.41 L142.78 554.77 L141.01 555.12 L139.24 555.51 L137.47 555.95 L135.70 556.51 L133.94 557.18 L132.17 557.88 L130.40 558.60 L128.63 559.35 L126.86 560.14 L125.09 560.95 L123.33 561.72 L121.56 562.49 L119.79 563.41 L118.02 564.75 L116.25 566.69 L114.48 567.68 L112.72 568.28 L110.95 568.31 L109.18 568.32 L107.41 568.33 L105.64 568.34 L103.87 568.35 L102.10 568.36 L100.34 568.37 L98.57 568.37 L96.80 568.38 L95.03 568.38 L93.26 568.39 L91.49 568.39 L89.73 568.39 L87.96 568.40 L86.19 568.40 L84.42 568.40 L82.65 568.40 L80.88 568.40 L79.12 568.40 L77.35 568.40Z" fill="#1f77b4" fill-opacity="0.1" stroke="#1f77b4" stroke-opacity="0.1" stroke-width="1.39" stroke-linejoin="round"/>
<path d="M728.12 173.07 L729.89 172.58 L731.66 172.09 L733.42 171.60 L735.19 171.12 L736.96 170.63 L738.73 170.15 L740.50 169.66 L742.27 169.18 L744.03 168.71 L745.80 168.23 L747.57 167.76 L749.34 167.29 L751.11 166.82 L752.88 166.36 L754.64 165.90 L756.41 165.44 L758.18 164.98 L759.95 164.52 L761.72 164.07 L763.49 163.62 L765.26 163.17 L767.02 162.72 L768.79 162.27 L770.56 161.83 L772.33 161.39 L774.10 160.95 L775.87 160.51 L777.63 160.08 L777.63 170.08 L775.87 170.19 L774.10 170.31 L772.33 170.42 L770.56 170.54 L768.79 170.67 L767.02 170.79 L765.26 170.92 L763.49 171.05 L761.72 171.18 L759.95 171.31 L758.18 171.44 L756.41 171.58 L754.64 171.72 L752.88 171.86 L751.11 172.00 L749.34 172.15 L747.57 172.29 L745.80 172.45 L744.03 172.60 L742.27 172.75 L740.50 172.91 L738.73 173.07 L736.96 173.24 L735.19 173.40 L733.42 173.57 L731.66 173.73 L729.89 173.90 L728.12 174.07Z" fill="#1f77b4" fill-opacity="0.1" stroke="#1f77b4" stroke-opacity="0.1" stroke-width="1.39" stroke-linejoin="round"/>
<path d="M728.12 173.24 L729.89 172.80 L731.66 172.36 L733.42 171.93 L735.19 171.49 L736.96 171.06 L738.73 170.63 L740.50 170.20 L742.27 169.77 L744.03 169.35 L745.80 168.93 L747.57 168.51 L749.34 168.09 L751.11 167.68 L752.88 167.27 L754.64 166.86 L756.41 166.45 L758.18 166.05 L759.95 165.64 L761.72 165.24 L763.49 164.84 L765.26 164.45 L767.02 164.05 L768.79 163.66 L770.56 163.27 L772.33 162.88 L774.10 162.49 L775.87 162.11 L777.63 161.73 L777.63 168.43 L775.87 168.59 L774.10 168.76 L772.33 168.93 L770.56 169.11 L768.79 169.28 L767.02 169.46 L765.26 169.64 L763.49 169.82 L761.72 170.00 L759.95 170.19 L758.18 170.38 L756.41 170.57 L754.64 170.76 L752.88 170.95 L751.11 171.15 L749.34 171.35 L747.57 171.55 L745.80 171.75 L744.03 171.96 L742.27 172.17 L740.50 172.38 L738.73 172.59 L736.96 172.81 L735.19 173.02 L733.42 173.24 L731.66 173.46 L729.89 173.69 L728.12 173.91Z" fill="#1f77b4" fill-opacity="0.1" stroke="#1f77b4" stroke-opacity="0.1" stroke-width="1.39" stroke-linejoin="round"/>
<path d="M728.12 173.41 L729.89 173.02 L731.66 172.64 L733.42 172.26 L735.19 171.88 L736.96 171.50 L738.73 171.13 L740.50 170.75 L742.27 170.38 L744.03 170.01 L745.80 169.64 L747.57 169.28 L749.34 168.92 L751.11 168.56 L752.88 168.20 L754.64 167.85 L756.41 167.50 L758.18 167.15 L759.95 166.80 L761.72 166.45 L763.49 166.11 L765.26 165.76 L767.02 165.42 L768.79 165.08 L770.56 164.75 L772.33 164.41 L774.10 164.08 L775.87 163.75 L777.63 163.43 L777.63 166.73 L775.87 166.95 L774.10 167.17 L772.33 167.40 L770.56 167.62 L768.79 167.85 L767.02 168.09 L765.26 168.32 L763.49 168.56 L761.72 168.80 L759.95 169.04 L758.18 169.28 L756.41 169.52 L754.64 169.77 L752.88 170.02 L751.11 170.27 L749.34 170.52 L747.57 170.78 L745.80 171.03 L744.03 171.29 L742.27 171.56 L740.50 171.82 L738.73 172.09 L736.96 172.36 L735.19 172.64 L733.42 172.91 L731.66 173.18 L729.89 173.46 L728.12 173.74Z" fill="#1f77b4" fill-opacity="0.1" stroke="#1f77b4" stroke-opacity="0.1" stroke-width="1.39" stroke-linejoin="round"/>
</g>
<path d="M77.50 505.50H778.50" stroke="#b0b0b0" stroke-width="1.11"/>
<path d="M77.50 441.50H778.50" stroke="#b0b0b0" stroke-width="1.11"/>
<path d="M77.50 377.50H778.50" stroke="#b0b0b0" stroke-width="1.11"/>
<path d="M77.50 313.50H778.50" stroke="#b0b0b0" stroke-width="1.11"/>
<path d="M77.50 249.50H778.50" stroke="#b0b0b0" stroke-width="1.11"/>
<path d="M77.50 186.50H778.50" stroke="#b0b0b0" stroke-width="1.11"/>
<path d="M77.50 122.50H778.50" stroke="#b0b0b0" stroke-width="1.11"/>
<path d="M77.50 58.50H778.50" stroke="#b0b0b0" stroke-width="1.11"/>
<g clip-path="url(#clip0)">
<path d="M77.35 568.40 L79.12 568.40 L80.88 568.40 L82.65 568.40 L84.42 568.40 L86.19 568.40 L87.96 568.40 L89.73 568.39 L91.49 568.39 L93.26 568.39 L95.03 568.38 L96.80 568.38 L98.57 568.37 L100.34 568.37 L102.10 568.36 L103.87 568.35 L105.64 568.34 L107.41 568.33 L109.18 568.32 L110.95 568.31 L112.72 568.21 L114.48 567.46 L116.25 566.31 L118.02 564.23 L119.79 562.76 L121.56 561.72 L123.33 560.84 L125.09 559.95 L126.86 559.03 L128.63 558.13 L130.40 557.29 L132.17 556.49 L133.94 555.72 L135.70 555.01 L137.47 554.41 L139.24 553.92 L141.01 553.50 L142.78 553.11 L144.55 552.72 L146.31 552.34 L148.08 551.98 L149.85 551.63 L151.62 551.30 L153.39 550.98 L155.16 550.67 L156.93 550.37 L158.69 550.06 L160.46 549.76 L162.23 549.45 L164.00 549.13 L165.77 548.81 L167.54 548.49 L169.30 548.17 L171.07 547.84 L172.84 547.51 L174.61 547.17 L176.38 546.84 L178.15 546.49 L179.91 546.15 L181.68 545.79 L183.45 545.44 L185.22 545.08 L186.99 544.71 L188.76 544.33 L190.52 543.93 L192.29 543.52 L194.06 543.11 L195.83 542.70 L197.60 542.30 L199.37 541.93 L201.14 541.58 L202.90 541.27 L204.67 540.97 L206.44 540.67 L208.21 540.35 L209.98 540.00 L211.75 539.61 L213.51 539.18 L215.28 538.72 L217.05 538.24 L218.82 537.75 L220.59 537.27 L222.36 536.82 L224.12 536.39 L225.89 536.01 L227.66 535.63 L229.43 535.26 L231.20 534.91 L232.97 534.56 L234.73 534.24 L236.50 533.93 L238.27 533.65 L240.04 533.39 L241.81 533.16 L243.58 532.94 L245.35 532.74 L247.11 532.54 L248.88 532.36 L250.65 532.19 L252.42 532.03 L254.19 531.87 L255.96 531.72 L257.72 531.59 L259.49 531.47 L261.26 531.35 L263.03 531.24 L264.80 531.12 L266.57 531.01 L268.33 530.88 L270.10 530.74 L271.87 530.59 L273.64 530.44 L275.41 530.28 L277.18 530.11 L278.94 529.94 L280.71 529.75 L282.48 529.55 L284.25 529.34 L286.02 529.12 L287.79 528.87 L289.56 528.61 L291.32 528.33 L293.09 528.03 L294.86 527.71 L296.63 527.38 L298.40 527.03 L300.17 526.67 L301.93 526.26 L303.70 525.81 L305.47 525.33 L307.24 524.82 L309.01 524.30 L310.78 523.78 L312.54 523.27 L314.31 522.78 L316.08 522.32 L317.85 521.87 L319.62 521.41 L321.39 520.97 L323.15 520.53 L324.92 520.10 L326.69 519.67 L328.46 519.25 L330.23 518.85 L332.00 518.45 L333.77 518.06 L335.53 517.67 L337.30 517.29 L339.07 516.91 L340.84 516.54 L342.61 516.17 L344.38 515.81 L346.14 515.46 L347.91 515.11 L349.68 514.76 L351.45 514.42 L353.22 514.09 L354.99 513.77 L356.75 513.46 L358.52 513.15 L360.29 512.83 L362.06 512.52 L363.83 512.21 L365.60 511.89 L367.36 511.57 L369.13 511.25 L370.90 510.93 L372.67 510.61 L374.44 510.29 L376.21 509.97 L377.98 509.66 L379.74 509.34 L381.51 509.04 L383.28 508.74 L385.05 508.45 L386.82 508.15 L388.59 507.86 L390.35 507.57 L392.12 507.26 L393.89 506.95 L395.66 506.63 L397.43 506.31 L399.20 505.98 L400.96 505.65 L402.73 505.31 L404.50 504.96 L406.27 504.59 L408.04 504.21 L409.81 503.80 L411.57 503.37 L413.34 502.91 L415.11 502.44 L416.88 501.94 L418.65 501.42 L420.42 500.86 L422.19 500.27 L423.95 499.64 L425.72 498.97 L427.49 498.23 L429.26 497.42 L431.03 496.54 L432.80 495.62 L434.56 494.65 L436.33 493.65 L438.10 492.62 L439.87 491.58 L441.64 490.51 L443.41 489.40 L445.17 488.24 L446.94 487.04 L448.71 485.80 L450.48 484.51 L452.25 483.17 L454.02 481.79 L455.78 480.35 L457.55 478.83 L459.32 477.23 L461.09 475.56 L462.86 473.84 L464.63 472.07 L466.40 470.26 L468.16 468.44 L469.93 466.61 L471.70 464.77 L473.47 462.91 L475.24 461.01 L477.01 459.08 L478.77 457.12 L480.54 455.13 L482.31 453.11 L484.08 451.07 L485.85 449.01 L487.62 446.92 L489.38 444.81 L491.15 442.66 L492.92 440.49 L494.69 438.29 L496.46 436.06 L498.23 433.80 L499.99 431.51 L501.76 429.20 L503.53 426.87 L505.30 424.52 L507.07 422.12 L508.84 419.65 L510.61 417.10 L512.37 414.46 L514.14 411.68 L515.91 408.71 L517.68 405.61 L519.45 402.48 L521.22 399.35 L522.98 396.19 L524.75 393.00 L526.52 389.78 L528.29 386.55 L530.06 383.29 L531.83 380.03 L533.59 376.76 L535.36 373.47 L537.13 370.14 L538.90 366.78 L540.67 363.42 L542.44 360.05 L544.21 356.70 L545.97 353.36 L547.74 350.06 L549.51 346.80 L551.28 343.58 L553.05 340.33 L554.82 337.06 L556.58 333.78 L558.35 330.52 L560.12 327.31 L561.89 324.17 L563.66 321.14 L565.43 318.23 L567.19 315.47 L568.96 312.88 L570.73 310.43 L572.50 308.06 L574.27 305.77 L576.04 303.56 L577.80 301.41 L579.57 299.31 L581.34 297.26 L583.11 295.26 L584.88 293.28 L586.65 291.32 L588.42 289.38 L590.18 287.44 L591.95 285.50 L593.72 283.55 L595.49 281.58 L597.26 279.58 L599.03 277.61 L600.79 275.64 L602.56 273.68 L604.33 271.74 L606.10 269.81 L607.87 267.89 L609.64 265.98 L611.40 264.08 L613.17 262.18 L614.94 260.30 L616.71 258.42 L618.48 256.56 L620.25 254.69 L622.01 252.84 L623.78 250.99 L625.55 249.15 L627.32 247.29 L629.09 245.42 L630.86 243.54 L632.63 241.69 L634.39 239.86 L636.16 238.09 L637.93 236.39 L639.70 234.77 L641.47 233.22 L643.24 231.69 L645.00 230.19 L646.77 228.72 L648.54 227.28 L650.31 225.87 L652.08 224.50 L653.85 223.17 L655.61 221.88 L657.38 220.63 L659.15 219.43 L660.92 218.28 L662.69 217.19 L664.46 216.14 L666.22 215.12 L667.99 214.14 L669.76 213.19 L671.53 212.27 L673.30 211.38 L675.07 210.51 L676.84 209.68 L678.60 208.87 L680.37 208.09 L682.14 207.33 L683.91 206.60 L685.68 205.89 L687.45 205.22 L689.21 204.58 L690.98 203.96 L692.75 203.37 L694.52 202.78 L696.29 202.21 L698.06 201.63 L699.82 201.06 L701.59 200.48 L703.36 199.90 L705.13 199.33 L706.90 198.77 L708.67 198.22 L710.43 197.69 L712.20 197.18 L713.97 196.69 L715.74 196.21 L717.51 195.75 L719.28 195.31 L721.05 194.89 L722.81 194.50 L724.58 194.14 L726.35 193.81 L728.12 193.50" fill="none" stroke="#1f77b4" stroke-width="2.08" stroke-linejoin="round" stroke-linecap="square"/>
<path d="M728.12 173.57 L729.89 173.24 L731.66 172.91 L733.42 172.59 L735.19 172.26 L736.96 171.93 L738.73 171.61 L740.50 171.29 L742.27 170.97 L744.03 170.65 L745.80 170.34 L747.57 170.03 L749.34 169.72 L751.11 169.41 L752.88 169.11 L754.64 168.81 L756.41 168.51 L758.18 168.21 L759.95 167.92 L761.72 167.62 L763.49 167.33 L765.26 167.04 L767.02 166.75 L768.79 166.47 L770.56 166.19 L772.33 165.91 L774.10 165.63 L775.87 165.35 L777.63 165.08" fill="none" stroke="#1f77b4" stroke-width="2.08" stroke-linejoin="round" stroke-linecap="square"/>
<g fill="#ff7f0e">
<circle cx="77.35" cy="568.40" r="5.3"/>
<circle cx="79.12" cy="568.40" r="5.3"/>
<circle cx="80.88" cy="568.39" r="5.3"/>
<circle cx="82.65" cy="568.39" r="5.3"/>
<circle cx="84.42" cy="568.38" r="5.3"/>
<circle cx="86.19" cy="568.37" r="5.3"/>
<circle cx="87.96" cy="568.37" r="5.3"/>
<circle cx="89.73" cy="568.36" r="5.3"/>
<circle cx="91.49" cy="568.35" r="5.3"/>
<circle cx="93.26" cy="568.34" r="5.3"/>
<circle cx="95.03" cy="568.33" r="5.3"/>
<circle cx="96.80" cy="568.32" r="5.3"/>
<circle cx="98.57" cy="568.31" r="5.3"/>
<circle cx="100.34" cy="568.30" r="5.3"/>
<circle cx="102.10" cy="568.29" r="5.3"/>
<circle cx="103.87" cy="568.28" r="5.3"/>
<circle cx="105.64" cy="568.26" r="5.3"/>
<circle cx="107.41" cy="568.25" r="5.3"/>
<circle cx="109.18" cy="568.23" r="5.3"/>
<circle cx="110.95" cy="568.21" r="5.3"/>
<circle cx="112.72" cy="568.19" r="5.3"/>
<circle cx="114.48" cy="568.16" r="5.3"/>
<circle cx="116.25" cy="568.11" r="5.3"/>
<circle cx="118.02" cy="568.05" r="5.3"/>
<circle cx="119.79" cy="567.98" r="5.3"/>
<circle cx="121.56" cy="567.91" r="5.3"/>
<circle cx="123.33" cy="567.85" r="5.3"/>
<circle cx="125.09" cy="567.79" r="5.3"/>
<circle cx="126.86" cy="567.72" r="5.3"/>
<circle cx="128.63" cy="567.64" r="5.3"/>
<circle cx="130.40" cy="567.55" r="5.3"/>
<circle cx="132.17" cy="567.46" r="5.3"/>
<circle cx="133.94" cy="567.38" r="5.3"/>
<circle cx="135.70" cy="567.31" r="5.3"/>
<circle cx="137.47" cy="567.23" r="5.3"/>
<circle cx="139.24" cy="567.15" r="5.3"/>
<circle cx="141.01" cy="567.06" r="5.3"/>
<circle cx="142.78" cy="566.96" r="5.3"/>
<circle cx="144.55" cy="566.87" r="5.3"/>
<circle cx="146.31" cy="566.79" r="5.3"/>
<circle cx="148.08" cy="566.71" r="5.3"/>
<circle cx="149.85" cy="566.62" r="5.3"/>
<circle cx="151.62" cy="566.51" r="5.3"/>
<circle cx="153.39" cy="566.38" r="5.3"/>
<circle cx="155.16" cy="566.23" r="5.3"/>
<circle cx="156.93" cy="566.07" r="5.3"/>
<circle cx="158.69" cy="565.94" r="5.3"/>
<circle cx="160.46" cy="565.82" r="5.3"/>
<circle cx="162.23" cy="565.69" r="5.3"/>
<circle cx="164.00" cy="565.54" r="5.3"/>
<circle cx="165.77" cy="565.37" r="5.3"/>
<circle cx="167.54" cy="565.19" r="5.3"/>
<circle cx="169.30" cy="565.01" r="5.3"/>
<circle cx="171.07" cy="564.85" r="5.3"/>
<circle cx="172.84" cy="564.72" r="5.3"/>
<circle cx="174.61" cy="564.57" r="5.3"/>
<circle cx="176.38" cy="564.39" r="5.3"/>
<circle cx="178.15" cy="564.19" r="5.3"/>
<circle cx="179.91" cy="563.97" r="5.3"/>
<circle cx="181.68" cy="563.76" r="5.3"/>
<circle cx="183.45" cy="563.57" r="5.3"/>
<circle cx="185.22" cy="563.41" r="5.3"/>
<circle cx="186.99" cy="563.23" r="5.3"/>
<circle cx="188.76" cy="563.03" r="5.3"/>
<circle cx="190.52" cy="562.80" r="5.3"/>
<circle cx="192.29" cy="562.57" r="5.3"/>
<circle cx="194.06" cy="562.34" r="5.3"/>
<circle cx="195.83" cy="562.15" r="5.3"/>
<circle cx="197.60" cy="561.99" r="5.3"/>
<circle cx="199.37" cy="561.81" r="5.3"/>
<circle cx="201.14" cy="561.60" r="5.3"/>
<circle cx="202.90" cy="561.36" r="5.3"/>
<circle cx="204.67" cy="561.11" r="5.3"/>
<circle cx="206.44" cy="560.84" r="5.3"/>
<circle cx="208.21" cy="560.61" r="5.3"/>
<circle cx="209.98" cy="560.41" r="5.3"/>
<circle cx="211.75" cy="560.16" r="5.3"/>
<circle cx="213.51" cy="559.85" r="5.3"/>
<circle cx="215.28" cy="559.51" r="5.3"/>
<circle cx="217.05" cy="559.15" r="5.3"/>
<circle cx="218.82" cy="558.83" r="5.3"/>
<circle cx="220.59" cy="558.59" r="5.3"/>
<circle cx="222.36" cy="558.42" r="5.3"/>
<circle cx="224.12" cy="558.24" r="5.3"/>
<circle cx="225.89" cy="558.05" r="5.3"/>
<circle cx="227.66" cy="557.84" r="5.3"/>
<circle cx="229.43" cy="557.64" r="5.3"/>
<circle cx="231.20" cy="557.45" r="5.3"/>
<circle cx="232.97" cy="557.29" r="5.3"/>
<circle cx="234.73" cy="557.17" r="5.3"/>
<circle cx="236.50" cy="557.01" r="5.3"/>
<circle cx="238.27" cy="556.83" r="5.3"/>
<circle cx="240.04" cy="556.61" r="5.3"/>
<circle cx="241.81" cy="556.37" r="5.3"/>
<circle cx="243.58" cy="556.12" r="5.3"/>
<circle cx="245.35" cy="555.91" r="5.3"/>
<circle cx="247.11" cy="555.75" r="5.3"/>
<circle cx="248.88" cy="555.55" r="5.3"/>
<circle cx="250.65" cy="555.32" r="5.3"/>
<circle cx="252.42" cy="555.06" r="5.3"/>
<circle cx="254.19" cy="554.78" r="5.3"/>
<circle cx="255.96" cy="554.50" r="5.3"/>
<circle cx="257.72" cy="554.28" r="5.3"/>
<circle cx="259.49" cy="554.11" r="5.3"/>
<circle cx="261.26" cy="553.91" r="5.3"/>
<circle cx="263.03" cy="553.67" r="5.3"/>
<circle cx="264.80" cy="553.40" r="5.3"/>
<circle cx="266.57" cy="553.12" r="5.3"/>
<circle cx="268.33" cy="552.85" r="5.3"/>
<circle cx="270.10" cy="552.64" r="5.3"/>
<circle cx="271.87" cy="552.49" r="5.3"/>
<circle cx="273.64" cy="552.31" r="5.3"/>
<circle cx="275.41" cy="552.11" r="5.3"/>
<circle cx="277.18" cy="551.87" r="5.3"/>
<circle cx="278.94" cy="551.61" r="5.3"/>
<circle cx="280.71" cy="551.34" r="5.3"/>
<circle cx="282.48" cy="551.12" r="5.3"/>
<circle cx="284.25" cy="550.94" r="5.3"/>
<circle cx="286.02" cy="550.69" r="5.3"/>
<circle cx="287.79" cy="550.38" r="5.3"/>
<circle cx="289.56" cy="549.99" r="5.3"/>
<circle cx="291.32" cy="549.53" r="5.3"/>
<circle cx="293.09" cy="549.05" r="5.3"/>
<circle cx="294.86" cy="548.66" r="5.3"/>
<circle cx="296.63" cy="548.38" r="5.3"/>
<circle cx="298.40" cy="548.01" r="5.3"/>
<circle cx="300.17" cy="547.57" r="5.3"/>
<circle cx="301.93" cy="547.06" r="5.3"/>
<circle cx="303.70" cy="546.50" r="5.3"/>
<circle cx="305.47" cy="545.93" r="5.3"/>
<circle cx="307.24" cy="545.48" r="5.3"/>
<circle cx="309.01" cy="545.15" r="5.3"/>
<circle cx="310.78" cy="544.72" r="5.3"/>
<circle cx="312.54" cy="544.20" r="5.3"/>
<circle cx="314.31" cy="543.57" r="5.3"/>
<circle cx="316.08" cy="542.86" r="5.3"/>
<circle cx="317.85" cy="542.14" r="5.3"/>
<circle cx="319.62" cy="541.55" r="5.3"/>
<circle cx="321.39" cy="541.13" r="5.3"/>
<circle cx="323.15" cy="540.57" r="5.3"/>
<circle cx="324.92" cy="539.91" r="5.3"/>
<circle cx="326.69" cy="539.15" r="5.3"/>
<circle cx="328.46" cy="538.36" r="5.3"/>
<circle cx="330.23" cy="537.62" r="5.3"/>
<circle cx="332.00" cy="537.06" r="5.3"/>
<circle cx="333.77" cy="536.69" r="5.3"/>
<circle cx="335.53" cy="536.20" r="5.3"/>
<circle cx="337.30" cy="535.61" r="5.3"/>
<circle cx="339.07" cy="534.94" r="5.3"/>
<circle cx="340.84" cy="534.24" r="5.3"/>
<circle cx="342.61" cy="533.56" r="5.3"/>
<circle cx="344.38" cy="533.05" r="5.3"/>
<circle cx="346.14" cy="532.71" r="5.3"/>
<circle cx="347.91" cy="532.27" r="5.3"/>
<circle cx="349.68" cy="531.74" r="5.3"/>
<circle cx="351.45" cy="531.14" r="5.3"/>
<circle cx="353.22" cy="530.50" r="5.3"/>
<circle cx="354.99" cy="529.91" r="5.3"/>
<circle cx="356.75" cy="529.46" r="5.3"/>
<circle cx="358.52" cy="529.17" r="5.3"/>
<circle cx="360.29" cy="528.78" r="5.3"/>
<circle cx="362.06" cy="528.31" r="5.3"/>
<circle cx="363.83" cy="527.76" r="5.3"/>
<circle cx="365.60" cy="527.17" r="5.3"/>
<circle cx="367.36" cy="526.61" r="5.3"/>
<circle cx="369.13" cy="526.19" r="5.3"/>
<circle cx="370.90" cy="525.91" r="5.3"/>
<circle cx="372.67" cy="525.53" r="5.3"/>
<circle cx="374.44" cy="525.08" r="5.3"/>
<circle cx="376.21" cy="524.55" r="5.3"/>
<circle cx="377.98" cy="523.99" r="5.3"/>
<circle cx="379.74" cy="523.45" r="5.3"/>
<circle cx="381.51" cy="523.06" r="5.3"/>
<circle cx="383.28" cy="522.81" r="5.3"/>
<circle cx="385.05" cy="522.47" r="5.3"/>
<circle cx="386.82" cy="522.05" r="5.3"/>
<circle cx="388.59" cy="521.55" r="5.3"/>
<circle cx="390.35" cy="521.00" r="5.3"/>
<circle cx="392.12" cy="520.46" r="5.3"/>
<circle cx="393.89" cy="520.05" r="5.3"/>
<circle cx="395.66" cy="519.79" r="5.3"/>
<circle cx="397.43" cy="519.41" r="5.3"/>
<circle cx="399.20" cy="518.94" r="5.3"/>
<circle cx="400.96" cy="518.36" r="5.3"/>
<circle cx="402.73" cy="517.70" r="5.3"/>
<circle cx="404.50" cy="517.04" r="5.3"/>
<circle cx="406.27" cy="516.53" r="5.3"/>
<circle cx="408.04" cy="516.19" r="5.3"/>
<circle cx="409.81" cy="515.66" r="5.3"/>
<circle cx="411.57" cy="514.96" r="5.3"/>
<circle cx="413.34" cy="514.02" r="5.3"/>
<circle cx="415.11" cy="512.91" r="5.3"/>
<circle cx="416.88" cy="511.76" r="5.3"/>
<circle cx="418.65" cy="510.89" r="5.3"/>
<circle cx="420.42" cy="510.33" r="5.3"/>
<circle cx="422.19" cy="509.58" r="5.3"/>
<circle cx="423.95" cy="508.71" r="5.3"/>
<circle cx="425.72" cy="507.70" r="5.3"/>
<circle cx="427.49" cy="506.56" r="5.3"/>
<circle cx="429.26" cy="505.40" r="5.3"/>
<circle cx="431.03" cy="504.49" r="5.3"/>
<circle cx="432.80" cy="503.90" r="5.3"/>
<circle cx="434.56" cy="502.95" r="5.3"/>
<circle cx="436.33" cy="501.69" r="5.3"/>
<circle cx="438.10" cy="500.07" r="5.3"/>
<circle cx="439.87" cy="498.23" r="5.3"/>
<circle cx="441.64" cy="496.44" r="5.3"/>
<circle cx="443.41" cy="495.15" r="5.3"/>
<circle cx="445.17" cy="494.36" r="5.3"/>
<circle cx="446.94" cy="493.21" r="5.3"/>
<circle cx="448.71" cy="491.76" r="5.3"/>
<circle cx="450.48" cy="489.98" r="5.3"/>
<circle cx="452.25" cy="488.02" r="5.3"/>
<circle cx="454.02" cy="486.13" r="5.3"/>
<circle cx="455.78" cy="484.76" r="5.3"/>
<circle cx="457.55" cy="483.93" r="5.3"/>
<circle cx="459.32" cy="482.72" r="5.3"/>
<circle cx="461.09" cy="481.18" r="5.3"/>
<circle cx="462.86" cy="479.27" r="5.3"/>
<circle cx="464.63" cy="477.07" r="5.3"/>
<circle cx="466.40" cy="474.79" r="5.3"/>
<circle cx="468.16" cy="473.02" r="5.3"/>
<circle cx="469.93" cy="471.86" r="5.3"/>
<circle cx="471.70" cy="470.08" r="5.3"/>
<circle cx="473.47" cy="467.72" r="5.3"/>
<circle cx="475.24" cy="464.67" r="5.3"/>
<circle cx="477.01" cy="461.13" r="5.3"/>
<circle cx="478.77" cy="457.59" r="5.3"/>
<circle cx="480.54" cy="454.95" r="5.3"/>
<circle cx="482.31" cy="453.29" r="5.3"/>
<circle cx="484.08" cy="450.92" r="5.3"/>
<circle cx="485.85" cy="447.99" r="5.3"/>
<circle cx="487.62" cy="444.55" r="5.3"/>
<circle cx="489.38" cy="440.90" r="5.3"/>
<circle cx="491.15" cy="437.47" r="5.3"/>
<circle cx="492.92" cy="435.06" r="5.3"/>
<circle cx="494.69" cy="433.63" r="5.3"/>
<circle cx="496.46" cy="431.54" r="5.3"/>
<circle cx="498.23" cy="428.91" r="5.3"/>
<circle cx="499.99" cy="425.70" r="5.3"/>
<circle cx="501.76" cy="422.12" r="5.3"/>
<circle cx="503.53" cy="418.56" r="5.3"/>
<circle cx="505.30" cy="415.90" r="5.3"/>
<circle cx="507.07" cy="414.23" r="5.3"/>
<circle cx="508.84" cy="411.67" r="5.3"/>
<circle cx="510.61" cy="408.30" r="5.3"/>
<circle cx="512.37" cy="403.98" r="5.3"/>
<circle cx="514.14" cy="398.98" r="5.3"/>
<circle cx="515.91" cy="393.91" r="5.3"/>
<circle cx="517.68" cy="390.12" r="5.3"/>
<circle cx="519.45" cy="387.75" r="5.3"/>
<circle cx="521.22" cy="384.28" r="5.3"/>
<circle cx="522.98" cy="379.86" r="5.3"/>
<circle cx="524.75" cy="374.45" r="5.3"/>
<circle cx="526.52" cy="368.48" r="5.3"/>
<circle cx="528.29" cy="362.68" r="5.3"/>
<circle cx="530.06" cy="358.49" r="5.3"/>
<circle cx="531.83" cy="355.92" r="5.3"/>
<circle cx="533.59" cy="352.30" r="5.3"/>
<circle cx="535.36" cy="347.96" r="5.3"/>
<circle cx="537.13" cy="343.02" r="5.3"/>
<circle cx="538.90" cy="338.00" r="5.3"/>
<circle cx="540.67" cy="333.44" r="5.3"/>
<circle cx="542.44" cy="330.30" r="5.3"/>
<circle cx="544.21" cy="328.44" r="5.3"/>
<circle cx="545.97" cy="325.74" r="5.3"/>
<circle cx="547.74" cy="322.43" r="5.3"/>
<circle cx="549.51" cy="318.55" r="5.3"/>
<circle cx="551.28" cy="314.47" r="5.3"/>
<circle cx="553.05" cy="310.63" r="5.3"/>
<circle cx="554.82" cy="307.93" r="5.3"/>
<circle cx="556.58" cy="306.31" r="5.3"/>
<circle cx="558.35" cy="303.97" r="5.3"/>
<circle cx="560.12" cy="301.09" r="5.3"/>
<circle cx="561.89" cy="297.70" r="5.3"/>
<circle cx="563.66" cy="294.13" r="5.3"/>
<circle cx="565.43" cy="290.78" r="5.3"/>
<circle cx="567.19" cy="288.42" r="5.3"/>
<circle cx="568.96" cy="287.01" r="5.3"/>
<circle cx="570.73" cy="284.98" r="5.3"/>
<circle cx="572.50" cy="282.49" r="5.3"/>
<circle cx="574.27" cy="279.59" r="5.3"/>
<circle cx="576.04" cy="276.55" r="5.3"/>
<circle cx="577.80" cy="273.71" r="5.3"/>
<circle cx="579.57" cy="271.72" r="5.3"/>
<circle cx="581.34" cy="270.54" r="5.3"/>
<circle cx="583.11" cy="268.82" r="5.3"/>
<circle cx="584.88" cy="266.70" r="5.3"/>
<circle cx="586.65" cy="264.19" r="5.3"/>
<circle cx="588.42" cy="261.50" r="5.3"/>
<circle cx="590.18" cy="258.93" r="5.3"/>
<circle cx="591.95" cy="257.09" r="5.3"/>
<circle cx="593.72" cy="255.98" r="5.3"/>
<circle cx="595.49" cy="254.33" r="5.3"/>
<circle cx="597.26" cy="252.20" r="5.3"/>
<circle cx="599.03" cy="249.60" r="5.3"/>
<circle cx="600.79" cy="246.80" r="5.3"/>
<circle cx="602.56" cy="244.19" r="5.3"/>
<circle cx="604.33" cy="242.40" r="5.3"/>
<circle cx="606.10" cy="241.37" r="5.3"/>
<circle cx="607.87" cy="239.96" r="5.3"/>
<circle cx="609.64" cy="238.38" r="5.3"/>
<circle cx="611.40" cy="236.69" r="5.3"/>
<circle cx="613.17" cy="234.99" r="5.3"/>
<circle cx="614.94" cy="233.26" r="5.3"/>
<circle cx="616.71" cy="231.86" r="5.3"/>
<circle cx="618.48" cy="230.91" r="5.3"/>
<circle cx="620.25" cy="229.49" r="5.3"/>
<circle cx="622.01" cy="227.62" r="5.3"/>
<circle cx="623.78" cy="225.26" r="5.3"/>
<circle cx="625.55" cy="222.61" r="5.3"/>
<circle cx="627.32" cy="220.07" r="5.3"/>
<circle cx="629.09" cy="218.25" r="5.3"/>
<circle cx="630.86" cy="217.14" r="5.3"/>
<circle cx="632.63" cy="215.49" r="5.3"/>
<circle cx="634.39" cy="213.44" r="5.3"/>
<circle cx="636.16" cy="211.07" r="5.3"/>
<circle cx="637.93" cy="208.64" r="5.3"/>
<circle cx="639.70" cy="206.47" r="5.3"/>
<circle cx="641.47" cy="205.04" r="5.3"/>
<circle cx="643.24" cy="204.26" r="5.3"/>
<circle cx="645.00" cy="203.20" r="5.3"/>
<circle cx="646.77" cy="201.93" r="5.3"/>
<circle cx="648.54" cy="200.48" r="5.3"/>
<circle cx="650.31" cy="199.01" r="5.3"/>
<circle cx="652.08" cy="197.66" r="5.3"/>
<circle cx="653.85" cy="196.74" r="5.3"/>
<circle cx="655.61" cy="196.20" r="5.3"/>
<circle cx="657.38" cy="195.43" r="5.3"/>
<circle cx="659.15" cy="194.48" r="5.3"/>
<circle cx="660.92" cy="193.39" r="5.3"/>
<circle cx="662.69" cy="192.27" r="5.3"/>
<circle cx="664.46" cy="191.23" r="5.3"/>
<circle cx="666.22" cy="190.51" r="5.3"/>
<circle cx="667.99" cy="190.09" r="5.3"/>
<circle cx="669.76" cy="189.49" r="5.3"/>
<circle cx="671.53" cy="188.76" r="5.3"/>
<circle cx="673.30" cy="187.93" r="5.3"/>
<circle cx="675.07" cy="187.08" r="5.3"/>
<circle cx="676.84" cy="186.30" r="5.3"/>
<circle cx="678.60" cy="185.76" r="5.3"/>
<circle cx="680.37" cy="185.45" r="5.3"/>
<circle cx="682.14" cy="185.00" r="5.3"/>
<circle cx="683.91" cy="184.46" r="5.3"/>
<circle cx="685.68" cy="183.83" r="5.3"/>
<circle cx="687.45" cy="183.17" r="5.3"/>
<circle cx="689.21" cy="182.56" r="5.3"/>
<circle cx="690.98" cy="182.13" r="5.3"/>
<circle cx="692.75" cy="181.87" r="5.3"/>
<circle cx="694.52" cy="181.49" r="5.3"/>
<circle cx="696.29" cy="181.02" r="5.3"/>
<circle cx="698.06" cy="180.46" r="5.3"/>
<circle cx="699.82" cy="179.87" r="5.3"/>
<circle cx="701.59" cy="179.29" r="5.3"/>
<circle cx="703.36" cy="178.89" r="5.3"/>
<circle cx="705.13" cy="178.64" r="5.3"/>
<circle cx="706.90" cy="178.28" r="5.3"/>
<circle cx="708.67" cy="177.84" r="5.3"/>
<circle cx="710.43" cy="177.32" r="5.3"/>
<circle cx="712.20" cy="176.76" r="5.3"/>
<circle cx="713.97" cy="176.23" r="5.3"/>
<circle cx="715.74" cy="175.86" r="5.3"/>
<circle cx="717.51" cy="175.63" r="5.3"/>
<circle cx="719.28" cy="175.29" r="5.3"/>
<circle cx="721.05" cy="174.88" r="5.3"/>
<circle cx="722.81" cy="174.38" r="5.3"/>
<circle cx="724.58" cy="173.83" r="5.3"/>
<circle cx="726.35" cy="173.31" r="5.3"/>
<circle cx="728.12" cy="172.94" r="5.3"/>
<circle cx="729.89" cy="172.71" r="5.3"/>
<circle cx="731.66" cy="172.37" r="5.3"/>
<circle cx="733.42" cy="171.95" r="5.3"/>
<circle cx="735.19" cy="171.46" r="5.3"/>
<circle cx="736.96" cy="170.92" r="5.3"/>
<circle cx="738.73" cy="170.40" r="5.3"/>
<circle cx="740.50" cy="170.03" r="5.3"/>
<circle cx="742.27" cy="169.81" r="5.3"/>
<circle cx="744.03" cy="169.48" r="5.3"/>
<circle cx="745.80" cy="169.08" r="5.3"/>
<circle cx="747.57" cy="168.60" r="5.3"/>
<circle cx="749.34" cy="168.08" r="5.3"/>
<circle cx="751.11" cy="167.59" r="5.3"/>
<circle cx="752.88" cy="167.23" r="5.3"/>
<circle cx="754.64" cy="167.02" r="5.3"/>
<circle cx="756.41" cy="166.71" r="5.3"/>
<circle cx="758.18" cy="166.32" r="5.3"/>
<circle cx="759.95" cy="165.86" r="5.3"/>
<circle cx="761.72" cy="165.36" r="5.3"/>
<circle cx="763.49" cy="164.89" r="5.3"/>
<circle cx="765.26" cy="164.55" r="5.3"/>
<circle cx="767.02" cy="164.34" r="5.3"/>
<circle cx="768.79" cy="164.04" r="5.3"/>
<circle cx="770.56" cy="163.67" r="5.3"/>
<circle cx="772.33" cy="163.22" r="5.3"/>
<circle cx="774.10" cy="162.77" r="5.3"/>
<circle cx="775.87" cy="162.34" r="5.3"/>
<circle cx="777.63" cy="162.05" r="5.3"/>
</g>
<path d="M728 567.80V16.10" stroke="#1f77b4" stroke-opacity="0.5" stroke-width="2.08" stroke-dasharray="7.708 3.333" fill="none"/>
</g>
<rect x="77.50" y="15.50" width="701.00" height="553.00" fill="none" stroke="#000" stroke-width="1.11" stroke-linejoin="miter"/>
<text x="68.58" y="573.70" text-anchor="end">0</text>
<text x="68.58" y="510.70" text-anchor="end">100000</text>
<text x="68.58" y="446.70" text-anchor="end">200000</text>
<text x="68.58" y="382.70" text-anchor="end">300000</text>
<text x="68.58" y="318.70" text-anchor="end">400000</text>
<text x="68.58" y="254.70" text-anchor="end">500000</text>
<text x="68.58" y="191.70" text-anchor="end">600000</text>
<text x="68.58" y="127.70" text-anchor="end">700000</text>
<text x="68.58" y="63.70" text-anchor="end">800000</text>
<path d="M77.50 568.50h-4.86M77.50 505.50h-4.86M77.50 441.50h-4.86M77.50 377.50h-4.86M77.50 313.50h-4.86M77.50 249.50h-4.86M77.50 186.50h-4.86M77.50 122.50h-4.86M77.50 58.50h-4.86M77.50 568.50v4.86M86.50 568.50v2.78M99.50 568.50v2.78M111.50 568.50v2.78M123.50 568.50v2.78M127.50 568.50v4.86M136.50 568.50v2.78M148.50 568.50v2.78M160.50 568.50v2.78M173.50 568.50v2.78M180.50 568.50v4.86M185.50 568.50v2.78M198.50 568.50v2.78M210.50 568.50v2.78M222.50 568.50v2.78M235.50 568.50v4.86M247.50 568.50v2.78M259.50 568.50v2.78M272.50 568.50v2.78M284.50 568.50v2.78M288.50 568.50v4.86M297.50 568.50v2.78M309.50 568.50v2.78M321.50 568.50v2.78M334.50 568.50v2.78M343.50 568.50v4.86M346.50 568.50v2.78M359.50 568.50v2.78M371.50 568.50v2.78M383.50 568.50v2.78M396.50 568.50v2.78M397.50 568.50v4.86M408.50 568.50v2.78M420.50 568.50v2.78M433.50 568.50v2.78M445.50 568.50v2.78M450.50 568.50v4.86M458.50 568.50v2.78M470.50 568.50v2.78M482.50 568.50v2.78M495.50 568.50v2.78M505.50 568.50v4.86M507.50 568.50v2.78M519.50 568.50v2.78M532.50 568.50v2.78M544.50 568.50v2.78M557.50 568.50v2.78M558.50 568.50v4.86M569.50 568.50v2.78M581.50 568.50v2.78M594.50 568.50v2.78M606.50 568.50v2.78M613.50 568.50v4.86M618.50 568.50v2.78M631.50 568.50v2.78M643.50 568.50v2.78M656.50 568.50v2.78M668.50 568.50v4.86M680.50 568.50v2.78M693.50 568.50v2.78M705.50 568.50v2.78M718.50 568.50v4.86M730.50 568.50v2.78M742.50 568.50v2.78M755.50 568.50v2.78M767.50 568.50v2.78M772.50 568.50v4.86M778.50 568.50v4.86" stroke="#000" stroke-width="1.11" fill="none"/>
<rect x="84.29" y="22.24" width="121.21" height="25.00" rx="2.78" ry="2.78" fill="#fff" fill-opacity="0.8" stroke="#ccc" stroke-opacity="0.8" stroke-width="1.39"/>
<path d="M89.85 33.40h27.78" stroke="#1f77b4" stroke-width="2.08" stroke-linecap="square" fill="none"/>
<text x="128.74" y="38.00">confirmed</text>
<clipPath id="clip1"><rect x="77.35" y="591.79" width="700.29" height="553.29"/></clipPath>
<g clip-path="url(#clip1)">
<path d="M77.35 1145.10 L79.12 1145.10 L80.88 1145.10 L82.65 1145.10 L84.42 1145.10 L86.19 1145.10 L87.96 1145.10 L89.73 1145.10 L91.49 1145.10 L93.26 1145.10 L95.03 1145.10 L96.80 1145.10 L98.57 1145.10 L100.34 1145.10 L102.10 1145.08 L103.87 1145.03 L105.64 1144.89 L107.41 1144.59 L109.18 1144.28 L110.95 1143.96 L112.72 1143.63 L114.48 1143.31 L116.25 1142.96 L118.02 1142.54 L119.79 1142.05 L121.56 1141.51 L123.33 1140.93 L125.09 1140.33 L126.86 1139.72 L128.63 1139.13 L130.40 1138.56 L132.17 1138.00 L133.94 1137.42 L135.70 1136.83 L137.47 1136.22 L139.24 1135.62 L141.01 1135.02 L142.78 1134.43 L144.55 1133.84 L146.31 1133.27 L148.08 1132.71 L149.85 1132.14 L151.62 1131.58 L153.39 1131.02 L155.16 1130.46 L156.93 1129.90 L158.69 1129.34 L160.46 1128.78 L162.23 1128.21 L164.00 1127.63 L165.77 1127.06 L167.54 1126.48 L169.30 1125.91 L171.07 1125.34 L172.84 1124.78 L174.61 1124.23 L176.38 1123.69 L178.15 1123.16 L179.91 1122.63 L181.68 1122.11 L183.45 1121.59 L185.22 1121.08 L186.99 1120.57 L188.76 1120.06 L190.52 1119.54 L192.29 1119.04 L194.06 1118.54 L195.83 1118.04 L197.60 1117.54 L199.37 1117.05 L201.14 1116.55 L202.90 1116.04 L204.67 1115.52 L206.44 1114.99 L208.21 1114.45 L209.98 1113.90 L211.75 1113.35 L213.51 1112.79 L215.28 1112.23 L217.05 1111.66 L218.82 1111.09 L220.59 1110.52 L222.36 1109.93 L224.12 1109.31 L225.89 1108.71 L227.66 1108.14 L229.43 1107.62 L231.20 1107.16 L232.97 1106.73 L234.73 1106.33 L236.50 1105.94 L238.27 1105.56 L240.04 1105.17 L241.81 1104.79 L243.58 1104.40 L245.35 1104.03 L247.11 1103.65 L248.88 1103.28 L250.65 1102.92 L252.42 1102.56 L254.19 1102.20 L255.96 1101.85 L257.72 1101.50 L259.49 1101.15 L261.26 1100.80 L263.03 1100.46 L264.80 1100.13 L266.57 1099.81 L268.33 1099.50 L270.10 1099.20 L271.87 1098.91 L273.64 1098.63 L275.41 1098.36 L277.18 1098.09 L278.94 1097.83 L280.71 1097.58 L282.48 1097.34 L284.25 1097.10 L286.02 1096.87 L287.79 1096.66 L289.56 1096.46 L291.32 1096.26 L293.09 1096.07 L294.86 1095.87 L296.63 1095.67 L298.40 1095.46 L300.17 1095.23 L301.93 1094.99 L303.70 1094.75 L305.47 1094.50 L307.24 1094.24 L309.01 1093.97 L310.78 1093.68 L312.54 1093.38 L314.31 1093.05 L316.08 1092.70 L317.85 1092.30 L319.62 1091.87 L321.39 1091.40 L323.15 1090.91 L324.92 1090.39 L326.69 1089.86 L328.46 1089.32 L330.23 1088.78 L332.00 1088.24 L333.77 1087.71 L335.53 1087.19 L337.30 1086.67 L339.07 1086.15 L340.84 1085.62 L342.61 1085.09 L344.38 1084.55 L346.14 1084.01 L347.91 1083.46 L349.68 1082.90 L351.45 1082.33 L353.22 1081.74 L354.99 1081.14 L356.75 1080.53 L358.52 1079.92 L360.29 1079.31 L362.06 1078.71 L363.83 1078.12 L365.60 1077.55 L367.36 1077.00 L369.13 1076.45 L370.90 1075.91 L372.67 1075.38 L374.44 1074.85 L376.21 1074.31 L377.98 1073.78 L379.74 1073.24 L381.51 1072.70 L383.28 1072.14 L385.05 1071.57 L386.82 1071.01 L388.59 1070.45 L390.35 1069.90 L392.12 1069.37 L393.89 1068.86 L395.66 1068.37 L397.43 1067.91 L399.20 1067.46 L400.96 1067.02 L402.73 1066.58 L404.50 1066.14 L406.27 1065.69 L408.04 1065.22 L409.81 1064.75 L411.57 1064.27 L413.34 1063.78 L415.11 1063.30 L416.88 1062.80 L418.65 1062.31 L420.42 1061.80 L422.19 1061.29 L423.95 1060.78 L425.72 1060.25 L427.49 1059.74 L429.26 1059.23 L431.03 1058.71 L432.80 1058.20 L434.56 1057.67 L436.33 1057.12 L438.10 1056.55 L439.87 1055.95 L441.64 1055.30 L443.41 1054.60 L445.17 1053.85 L446.94 1053.06 L448.71 1052.21 L450.48 1051.32 L452.25 1050.36 L454.02 1049.34 L455.78 1048.25 L457.55 1047.12 L459.32 1045.95 L461.09 1044.76 L462.86 1043.51 L464.63 1042.21 L466.40 1040.85 L468.16 1039.42 L469.93 1037.92 L471.70 1036.33 L473.47 1034.67 L475.24 1032.91 L477.01 1031.06 L478.77 1029.09 L480.54 1026.98 L482.31 1024.65 L484.08 1022.11 L485.85 1019.44 L487.62 1016.71 L489.38 1013.99 L491.15 1011.33 L492.92 1008.67 L494.69 1005.98 L496.46 1003.28 L498.23 1000.61 L499.99 997.99 L501.76 995.43 L503.53 992.91 L505.30 990.43 L507.07 987.97 L508.84 985.51 L510.61 983.03 L512.37 980.52 L514.14 978.02 L515.91 975.52 L517.68 973.00 L519.45 970.42 L521.22 967.73 L522.98 964.83 L524.75 961.77 L526.52 958.57 L528.29 955.24 L530.06 951.79 L531.83 948.20 L533.59 944.54 L535.36 940.79 L537.13 936.98 L538.90 933.17 L540.67 929.38 L542.44 925.64 L544.21 921.88 L545.97 918.11 L547.74 914.31 L549.51 910.47 L551.28 906.60 L553.05 902.67 L554.82 898.65 L556.58 894.57 L558.35 890.45 L560.12 886.33 L561.89 882.23 L563.66 878.19 L565.43 874.23 L567.19 870.39 L568.96 866.66 L570.73 863.02 L572.50 859.42 L574.27 855.85 L576.04 852.26 L577.80 848.63 L579.57 844.93 L581.34 841.09 L583.11 837.20 L584.88 833.47 L586.65 829.88 L588.42 826.40 L590.18 823.09 L591.95 819.94 L593.72 816.90 L595.49 813.94 L597.26 811.03 L599.03 808.12 L600.79 805.20 L602.56 802.25 L604.33 799.30 L606.10 796.36 L607.87 793.43 L609.64 790.52 L611.40 787.63 L613.17 784.77 L614.94 781.95 L616.71 779.16 L618.48 776.42 L620.25 773.71 L622.01 771.01 L623.78 768.31 L625.55 765.59 L627.32 762.91 L629.09 760.26 L630.86 757.60 L632.63 754.91 L634.39 752.18 L636.16 749.37 L637.93 746.45 L639.70 743.32 L641.47 740.12 L643.24 736.99 L645.00 734.09 L646.77 731.38 L648.54 728.75 L650.31 726.21 L652.08 723.77 L653.85 721.45 L655.61 719.25 L657.38 717.10 L659.15 715.01 L660.92 713.02 L662.69 711.16 L664.46 709.46 L666.22 707.77 L667.99 706.07 L669.76 704.37 L671.53 702.70 L673.30 701.06 L675.07 699.48 L676.84 697.95 L678.60 696.45 L680.37 694.99 L682.14 693.56 L683.91 692.16 L685.68 690.81 L687.45 689.48 L689.21 688.18 L690.98 686.91 L692.75 685.66 L694.52 684.46 L696.29 683.29 L698.06 682.16 L699.82 681.05 L701.59 679.96 L703.36 678.87 L705.13 677.76 L706.90 676.62 L708.67 675.45 L710.43 674.29 L712.20 673.16 L713.97 672.09 L715.74 671.09 L717.51 670.12 L719.28 669.19 L721.05 668.28 L722.81 667.40 L724.58 666.56 L726.35 665.76 L728.12 665.01 L728.12 755.93 L726.35 756.34 L724.58 756.79 L722.81 757.29 L721.05 757.83 L719.28 758.42 L717.51 759.05 L715.74 759.72 L713.97 760.45 L712.20 761.26 L710.43 762.16 L708.67 763.10 L706.90 764.08 L705.13 765.06 L703.36 766.03 L701.59 767.02 L699.82 768.05 L698.06 769.10 L696.29 770.18 L694.52 771.31 L692.75 772.48 L690.98 773.69 L689.21 774.93 L687.45 776.20 L685.68 777.50 L683.91 778.82 L682.14 780.18 L680.37 781.58 L678.60 783.00 L676.84 784.46 L675.07 785.94 L673.30 787.50 L671.53 789.15 L669.76 790.88 L667.99 792.66 L666.22 794.46 L664.46 796.25 L662.69 798.00 L660.92 799.72 L659.15 801.45 L657.38 803.23 L655.61 805.11 L653.85 807.11 L652.08 809.22 L650.31 811.41 L648.54 813.67 L646.77 816.00 L645.00 818.41 L643.24 821.00 L641.47 823.81 L639.70 826.67 L637.93 829.44 L636.16 832.00 L634.39 834.43 L632.63 836.77 L630.86 839.06 L629.09 841.32 L627.32 843.52 L625.55 845.69 L623.78 847.85 L622.01 849.95 L620.25 852.03 L618.48 854.11 L616.71 856.20 L614.94 858.33 L613.17 860.51 L611.40 862.74 L609.64 865.02 L607.87 867.36 L606.10 869.72 L604.33 872.11 L602.56 874.51 L600.79 876.92 L599.03 879.31 L597.26 881.69 L595.49 884.07 L593.72 886.51 L591.95 889.02 L590.18 891.63 L588.42 894.39 L586.65 897.31 L584.88 900.32 L583.11 903.44 L581.34 906.70 L579.57 909.87 L577.80 912.87 L576.04 915.75 L574.27 918.54 L572.50 921.23 L570.73 923.86 L568.96 926.47 L567.19 929.13 L565.43 931.88 L563.66 934.76 L561.89 937.76 L560.12 940.87 L558.35 944.08 L556.58 947.39 L554.82 950.73 L553.05 954.05 L551.28 957.33 L549.51 960.56 L547.74 963.78 L545.97 966.97 L544.21 970.15 L542.44 973.30 L540.67 976.42 L538.90 979.56 L537.13 982.71 L535.36 985.81 L533.59 988.80 L531.83 991.63 L530.06 994.24 L528.29 996.63 L526.52 998.85 L524.75 1000.98 L522.98 1003.08 L521.22 1005.17 L519.45 1007.25 L517.68 1009.33 L515.91 1011.40 L514.14 1013.48 L512.37 1015.61 L510.61 1017.77 L508.84 1019.93 L507.07 1022.09 L505.30 1024.26 L503.53 1026.46 L501.76 1028.69 L499.99 1030.97 L498.23 1033.30 L496.46 1035.66 L494.69 1038.01 L492.92 1040.34 L491.15 1042.61 L489.38 1044.83 L487.62 1047.03 L485.85 1049.17 L484.08 1051.18 L482.31 1053.01 L480.54 1054.59 L478.77 1055.91 L477.01 1057.09 L475.24 1058.14 L473.47 1059.11 L471.70 1060.00 L469.93 1060.85 L468.16 1061.66 L466.40 1062.46 L464.63 1063.26 L462.86 1064.08 L461.09 1064.94 L459.32 1065.85 L457.55 1066.76 L455.78 1067.64 L454.02 1068.49 L452.25 1069.28 L450.48 1070.02 L448.71 1070.69 L446.94 1071.32 L445.17 1071.91 L443.41 1072.46 L441.64 1072.97 L439.87 1073.43 L438.10 1073.85 L436.33 1074.24 L434.56 1074.61 L432.80 1074.96 L431.03 1075.29 L429.26 1075.63 L427.49 1075.96 L425.72 1076.30 L423.95 1076.65 L422.19 1077.00 L420.42 1077.34 L418.65 1077.68 L416.88 1078.01 L415.11 1078.34 L413.34 1078.67 L411.57 1079.00 L409.81 1079.34 L408.04 1079.66 L406.27 1079.96 L404.50 1080.24 L402.73 1080.52 L400.96 1080.79 L399.20 1081.06 L397.43 1081.34 L395.66 1081.63 L393.89 1081.94 L392.12 1082.27 L390.35 1082.63 L388.59 1083.00 L386.82 1083.40 L385.05 1083.80 L383.28 1084.22 L381.51 1084.64 L379.74 1085.06 L377.98 1085.48 L376.21 1085.89 L374.44 1086.29 L372.67 1086.69 L370.90 1087.10 L369.13 1087.51 L367.36 1087.93 L365.60 1088.37 L363.83 1088.83 L362.06 1089.31 L360.29 1089.82 L358.52 1090.34 L356.75 1090.88 L354.99 1091.43 L353.22 1091.98 L351.45 1092.54 L349.68 1093.10 L347.91 1093.66 L346.14 1094.22 L344.38 1094.78 L342.61 1095.33 L340.84 1095.89 L339.07 1096.45 L337.30 1097.01 L335.53 1097.57 L333.77 1098.13 L332.00 1098.72 L330.23 1099.31 L328.46 1099.91 L326.69 1100.51 L324.92 1101.10 L323.15 1101.67 L321.39 1102.23 L319.62 1102.76 L317.85 1103.26 L316.08 1103.72 L314.31 1104.13 L312.54 1104.52 L310.78 1104.89 L309.01 1105.23 L307.24 1105.56 L305.47 1105.87 L303.70 1106.16 L301.93 1106.45 L300.17 1106.72 L298.40 1106.99 L296.63 1107.24 L294.86 1107.48 L293.09 1107.72 L291.32 1107.95 L289.56 1108.19 L287.79 1108.43 L286.02 1108.68 L284.25 1108.94 L282.48 1109.21 L280.71 1109.49 L278.94 1109.77 L277.18 1110.06 L275.41 1110.35 L273.64 1110.64 L271.87 1110.93 L270.10 1111.23 L268.33 1111.54 L266.57 1111.86 L264.80 1112.19 L263.03 1112.53 L261.26 1112.87 L259.49 1113.23 L257.72 1113.58 L255.96 1113.93 L254.19 1114.28 L252.42 1114.64 L250.65 1115.00 L248.88 1115.36 L247.11 1115.72 L245.35 1116.09 L243.58 1116.45 L241.81 1116.82 L240.04 1117.19 L238.27 1117.56 L236.50 1117.92 L234.73 1118.29 L232.97 1118.67 L231.20 1119.08 L229.43 1119.52 L227.66 1120.02 L225.89 1120.57 L224.12 1121.15 L222.36 1121.74 L220.59 1122.32 L218.82 1122.86 L217.05 1123.40 L215.28 1123.93 L213.51 1124.44 L211.75 1124.95 L209.98 1125.44 L208.21 1125.92 L206.44 1126.39 L204.67 1126.84 L202.90 1127.28 L201.14 1127.70 L199.37 1128.11 L197.60 1128.51 L195.83 1128.90 L194.06 1129.29 L192.29 1129.68 L190.52 1130.07 L188.76 1130.46 L186.99 1130.85 L185.22 1131.23 L183.45 1131.62 L181.68 1132.00 L179.91 1132.39 L178.15 1132.78 L176.38 1133.18 L174.61 1133.59 L172.84 1134.00 L171.07 1134.42 L169.30 1134.84 L167.54 1135.25 L165.77 1135.66 L164.00 1136.07 L162.23 1136.48 L160.46 1136.87 L158.69 1137.26 L156.93 1137.64 L155.16 1138.01 L153.39 1138.39 L151.62 1138.76 L149.85 1139.13 L148.08 1139.50 L146.31 1139.86 L144.55 1140.23 L142.78 1140.61 L141.01 1140.99 L139.24 1141.37 L137.47 1141.75 L135.70 1142.12 L133.94 1142.48 L132.17 1142.82 L130.40 1143.13 L128.63 1143.44 L126.86 1143.78 L125.09 1144.12 L123.33 1144.45 L121.56 1144.76 L119.79 1145.01 L118.02 1145.20 L116.25 1145.31 L114.48 1145.32 L112.72 1145.29 L110.95 1145.25 L109.18 1145.19 L107.41 1145.12 L105.64 1145.03 L103.87 1145.03 L102.10 1145.08 L100.34 1145.10 L98.57 1145.10 L96.80 1145.10 L95.03 1145.10 L93.26 1145.10 L91.49 1145.10 L89.73 1145.10 L87.96 1145.10 L86.19 1145.10 L84.42 1145.10 L82.65 1145.10 L80.88 1145.10 L79.12 1145.10 L77.35 1145.10Z" fill="#1f77b4" fill-opacity="0.1" stroke="#1f77b4" stroke-opacity="0.1" stroke-width="1.39" stroke-linejoin="round"/>
<path d="M77.35 1145.10 L79.12 1145.10 L80.88 1145.10 L82.65 1145.10 L84.42 1145.10 L86.19 1145.10 L87.96 1145.10 L89.73 1145.10 L91.49 1145.10 L93.26 1145.10 L95.03 1145.10 L96.80 1145.10 L98.57 1145.10 L100.34 1145.10 L102.10 1145.08 L103.87 1145.03 L105.64 1144.91 L107.41 1144.68 L109.18 1144.44 L110.95 1144.18 L112.72 1143.92 L114.48 1143.65 L116.25 1143.36 L118.02 1142.98 L119.79 1142.54 L121.56 1142.04 L123.33 1141.50 L125.09 1140.93 L126.86 1140.36 L128.63 1139.80 L130.40 1139.27 L132.17 1138.73 L133.94 1138.18 L135.70 1137.62 L137.47 1137.04 L139.24 1136.47 L141.01 1135.89 L142.78 1135.32 L144.55 1134.76 L146.31 1134.21 L148.08 1133.67 L149.85 1133.13 L151.62 1132.59 L153.39 1132.06 L155.16 1131.52 L156.93 1130.98 L158.69 1130.44 L160.46 1129.90 L162.23 1129.35 L164.00 1128.79 L165.77 1128.24 L167.54 1127.69 L169.30 1127.13 L171.07 1126.58 L172.84 1126.04 L174.61 1125.51 L176.38 1124.99 L178.15 1124.47 L179.91 1123.96 L181.68 1123.46 L183.45 1122.96 L185.22 1122.46 L186.99 1121.96 L188.76 1121.47 L190.52 1120.97 L192.29 1120.48 L194.06 1119.99 L195.83 1119.50 L197.60 1119.02 L199.37 1118.53 L201.14 1118.04 L202.90 1117.54 L204.67 1117.03 L206.44 1116.51 L208.21 1115.98 L209.98 1115.44 L211.75 1114.89 L213.51 1114.34 L215.28 1113.79 L217.05 1113.23 L218.82 1112.67 L220.59 1112.10 L222.36 1111.51 L224.12 1110.91 L225.89 1110.31 L227.66 1109.75 L229.43 1109.23 L231.20 1108.78 L232.97 1108.36 L234.73 1107.96 L236.50 1107.58 L238.27 1107.21 L240.04 1106.83 L241.81 1106.45 L243.58 1106.07 L245.35 1105.70 L247.11 1105.33 L248.88 1104.97 L250.65 1104.61 L252.42 1104.25 L254.19 1103.90 L255.96 1103.56 L257.72 1103.21 L259.49 1102.87 L261.26 1102.52 L263.03 1102.19 L264.80 1101.86 L266.57 1101.54 L268.33 1101.24 L270.10 1100.94 L271.87 1100.66 L273.64 1100.38 L275.41 1100.11 L277.18 1099.85 L278.94 1099.60 L280.71 1099.35 L282.48 1099.11 L284.25 1098.88 L286.02 1098.66 L287.79 1098.45 L289.56 1098.25 L291.32 1098.06 L293.09 1097.87 L294.86 1097.68 L296.63 1097.48 L298.40 1097.27 L300.17 1097.04 L301.93 1096.81 L303.70 1096.57 L305.47 1096.33 L307.24 1096.07 L309.01 1095.80 L310.78 1095.52 L312.54 1095.21 L314.31 1094.89 L316.08 1094.54 L317.85 1094.15 L319.62 1093.72 L321.39 1093.25 L323.15 1092.76 L324.92 1092.25 L326.69 1091.72 L328.46 1091.18 L330.23 1090.64 L332.00 1090.10 L333.77 1089.57 L335.53 1089.06 L337.30 1088.54 L339.07 1088.02 L340.84 1087.50 L342.61 1086.97 L344.38 1086.43 L346.14 1085.89 L347.91 1085.34 L349.68 1084.78 L351.45 1084.21 L353.22 1083.63 L354.99 1083.03 L356.75 1082.42 L358.52 1081.81 L360.29 1081.20 L362.06 1080.61 L363.83 1080.02 L365.60 1079.45 L367.36 1078.90 L369.13 1078.36 L370.90 1077.82 L372.67 1077.29 L374.44 1076.76 L376.21 1076.23 L377.98 1075.70 L379.74 1075.17 L381.51 1074.63 L383.28 1074.07 L385.05 1073.51 L386.82 1072.95 L388.59 1072.40 L390.35 1071.85 L392.12 1071.32 L393.89 1070.82 L395.66 1070.34 L397.43 1069.88 L399.20 1069.44 L400.96 1069.00 L402.73 1068.58 L404.50 1068.15 L406.27 1067.71 L408.04 1067.27 L409.81 1066.83 L411.57 1066.37 L413.34 1065.92 L415.11 1065.47 L416.88 1065.01 L418.65 1064.56 L420.42 1064.09 L422.19 1063.63 L423.95 1063.15 L425.72 1062.67 L427.49 1062.20 L429.26 1061.74 L431.03 1061.28 L432.80 1060.81 L434.56 1060.33 L436.33 1059.83 L438.10 1059.30 L439.87 1058.75 L441.64 1058.15 L443.41 1057.50 L445.17 1056.81 L446.94 1056.07 L448.71 1055.28 L450.48 1054.45 L452.25 1053.55 L454.02 1052.59 L455.78 1051.57 L457.55 1050.50 L459.32 1049.40 L461.09 1048.26 L462.86 1047.08 L464.63 1045.85 L466.40 1044.55 L468.16 1043.19 L469.93 1041.75 L471.70 1040.24 L473.47 1038.65 L475.24 1036.97 L477.01 1035.18 L478.77 1033.28 L480.54 1031.25 L482.31 1028.98 L484.08 1026.51 L485.85 1023.91 L487.62 1021.24 L489.38 1018.58 L491.15 1015.99 L492.92 1013.38 L494.69 1010.75 L496.46 1008.10 L498.23 1005.48 L499.99 1002.90 L501.76 1000.39 L503.53 997.92 L505.30 995.49 L507.07 993.08 L508.84 990.67 L510.61 988.24 L512.37 985.80 L514.14 983.36 L515.91 980.94 L517.68 978.49 L519.45 976.00 L521.22 973.42 L522.98 970.67 L524.75 967.79 L526.52 964.79 L528.29 961.68 L530.06 958.43 L531.83 955.03 L533.59 951.52 L535.36 947.91 L537.13 944.24 L538.90 940.55 L540.67 936.89 L542.44 933.27 L544.21 929.63 L545.97 925.96 L547.74 922.28 L549.51 918.56 L551.28 914.80 L553.05 910.98 L554.82 907.08 L556.58 903.12 L558.35 899.13 L560.12 895.14 L561.89 891.17 L563.66 887.26 L565.43 883.44 L567.19 879.73 L568.96 876.14 L570.73 872.62 L572.50 869.16 L574.27 865.71 L576.04 862.24 L577.80 858.73 L579.57 855.14 L581.34 851.40 L583.11 847.61 L584.88 843.97 L586.65 840.46 L588.42 837.08 L590.18 833.85 L591.95 830.78 L593.72 827.82 L595.49 824.95 L597.26 822.12 L599.03 819.30 L600.79 816.46 L602.56 813.59 L604.33 810.72 L606.10 807.87 L607.87 805.02 L609.64 802.20 L611.40 799.39 L613.17 796.61 L614.94 793.87 L616.71 791.17 L618.48 788.51 L620.25 785.88 L622.01 783.26 L623.78 780.64 L625.55 778.02 L627.32 775.42 L629.09 772.84 L630.86 770.27 L632.63 767.67 L634.39 765.02 L636.16 762.30 L637.93 759.46 L639.70 756.41 L641.47 753.29 L643.24 750.24 L645.00 747.42 L646.77 744.80 L648.54 742.25 L650.31 739.80 L652.08 737.46 L653.85 735.24 L655.61 733.15 L657.38 731.14 L659.15 729.22 L660.92 727.38 L662.69 725.64 L664.46 723.99 L666.22 722.33 L667.99 720.65 L669.76 718.98 L671.53 717.33 L673.30 715.72 L675.07 714.15 L676.84 712.64 L678.60 711.15 L680.37 709.70 L682.14 708.28 L683.91 706.90 L685.68 705.55 L687.45 704.24 L689.21 702.95 L690.98 701.68 L692.75 700.45 L694.52 699.26 L696.29 698.10 L698.06 696.99 L699.82 695.90 L701.59 694.83 L703.36 693.75 L705.13 692.66 L706.90 691.54 L708.67 690.40 L710.43 689.26 L712.20 688.15 L713.97 687.09 L715.74 686.11 L717.51 685.17 L719.28 684.25 L721.05 683.36 L722.81 682.51 L724.58 681.69 L726.35 680.92 L728.12 680.18 L728.12 741.10 L726.35 741.60 L724.58 742.15 L722.81 742.74 L721.05 743.37 L719.28 744.04 L717.51 744.75 L715.74 745.50 L713.97 746.29 L712.20 747.17 L710.43 748.12 L708.67 749.12 L706.90 750.14 L705.13 751.15 L703.36 752.15 L701.59 753.16 L699.82 754.19 L698.06 755.24 L696.29 756.32 L694.52 757.45 L692.75 758.62 L690.98 759.83 L689.21 761.07 L687.45 762.34 L685.68 763.64 L683.91 764.96 L682.14 766.32 L680.37 767.72 L678.60 769.14 L676.84 770.60 L675.07 772.08 L673.30 773.63 L671.53 775.26 L669.76 776.94 L667.99 778.67 L666.22 780.41 L664.46 782.14 L662.69 783.82 L660.92 785.46 L659.15 787.13 L657.38 788.85 L655.61 790.68 L653.85 792.63 L652.08 794.71 L650.31 796.89 L648.54 799.15 L646.77 801.50 L645.00 803.92 L643.24 806.53 L641.47 809.36 L639.70 812.26 L637.93 815.06 L636.16 817.66 L634.39 820.13 L632.63 822.51 L630.86 824.85 L629.09 827.15 L627.32 829.42 L625.55 831.68 L623.78 833.94 L622.01 836.16 L620.25 838.36 L618.48 840.56 L616.71 842.79 L614.94 845.05 L613.17 847.36 L611.40 849.72 L609.64 852.12 L607.87 854.56 L606.10 857.02 L604.33 859.51 L602.56 862.01 L600.79 864.51 L599.03 866.99 L597.26 869.46 L595.49 871.94 L593.72 874.46 L591.95 877.06 L590.18 879.77 L588.42 882.63 L586.65 885.64 L584.88 888.75 L583.11 891.99 L581.34 895.35 L579.57 898.65 L577.80 901.77 L576.04 904.78 L574.27 907.71 L572.50 910.57 L570.73 913.38 L568.96 916.21 L567.19 919.08 L565.43 922.06 L563.66 925.16 L561.89 928.37 L560.12 931.67 L558.35 935.06 L556.58 938.51 L554.82 941.98 L553.05 945.41 L551.28 948.78 L549.51 952.11 L547.74 955.42 L545.97 958.70 L544.21 961.96 L542.44 965.20 L540.67 968.41 L538.90 971.64 L537.13 974.88 L535.36 978.07 L533.59 981.17 L531.83 984.13 L530.06 986.87 L528.29 989.40 L526.52 991.78 L524.75 994.06 L522.98 996.30 L521.22 998.50 L519.45 1000.68 L517.68 1002.83 L515.91 1004.97 L514.14 1007.12 L512.37 1009.30 L510.61 1011.52 L508.84 1013.73 L507.07 1015.94 L505.30 1018.16 L503.53 1020.40 L501.76 1022.68 L499.99 1025.00 L498.23 1027.38 L496.46 1029.79 L494.69 1032.21 L492.92 1034.61 L491.15 1036.95 L489.38 1039.25 L487.62 1041.56 L485.85 1043.82 L484.08 1045.99 L482.31 1047.98 L480.54 1049.74 L478.77 1051.25 L477.01 1052.62 L475.24 1053.87 L473.47 1055.03 L471.70 1056.10 L469.93 1057.12 L468.16 1058.09 L466.40 1059.03 L464.63 1059.95 L462.86 1060.86 L461.09 1061.79 L459.32 1062.73 L457.55 1063.66 L455.78 1064.56 L454.02 1065.42 L452.25 1066.23 L450.48 1066.98 L448.71 1067.66 L446.94 1068.30 L445.17 1068.91 L443.41 1069.47 L441.64 1069.99 L439.87 1070.46 L438.10 1070.90 L436.33 1071.30 L434.56 1071.68 L432.80 1072.04 L431.03 1072.39 L429.26 1072.73 L427.49 1073.07 L425.72 1073.43 L423.95 1073.79 L422.19 1074.15 L420.42 1074.50 L418.65 1074.85 L416.88 1075.20 L415.11 1075.55 L413.34 1075.90 L411.57 1076.25 L409.81 1076.60 L408.04 1076.94 L406.27 1077.28 L404.50 1077.60 L402.73 1077.91 L400.96 1078.23 L399.20 1078.55 L397.43 1078.88 L395.66 1079.22 L393.89 1079.58 L392.12 1079.97 L390.35 1080.38 L388.59 1080.81 L386.82 1081.25 L385.05 1081.70 L383.28 1082.16 L381.51 1082.63 L379.74 1083.09 L377.98 1083.54 L376.21 1083.99 L374.44 1084.43 L372.67 1084.87 L370.90 1085.31 L369.13 1085.77 L367.36 1086.23 L365.60 1086.70 L363.83 1087.19 L362.06 1087.71 L360.29 1088.24 L358.52 1088.79 L356.75 1089.35 L354.99 1089.92 L353.22 1090.49 L351.45 1091.05 L349.68 1091.62 L347.91 1092.17 L346.14 1092.73 L344.38 1093.28 L342.61 1093.83 L340.84 1094.38 L339.07 1094.92 L337.30 1095.47 L335.53 1096.01 L333.77 1096.56 L332.00 1097.12 L330.23 1097.70 L328.46 1098.27 L326.69 1098.85 L324.92 1099.42 L323.15 1099.97 L321.39 1100.51 L319.62 1101.01 L317.85 1101.49 L316.08 1101.92 L314.31 1102.32 L312.54 1102.68 L310.78 1103.02 L309.01 1103.35 L307.24 1103.65 L305.47 1103.94 L303.70 1104.22 L301.93 1104.49 L300.17 1104.75 L298.40 1105.00 L296.63 1105.23 L294.86 1105.45 L293.09 1105.67 L291.32 1105.89 L289.56 1106.11 L287.79 1106.33 L286.02 1106.57 L284.25 1106.81 L282.48 1107.07 L280.71 1107.33 L278.94 1107.60 L277.18 1107.87 L275.41 1108.15 L273.64 1108.43 L271.87 1108.71 L270.10 1109.01 L268.33 1109.31 L266.57 1109.62 L264.80 1109.94 L263.03 1110.27 L261.26 1110.61 L259.49 1110.96 L257.72 1111.30 L255.96 1111.65 L254.19 1112.00 L252.42 1112.35 L250.65 1112.70 L248.88 1113.06 L247.11 1113.42 L245.35 1113.78 L243.58 1114.14 L241.81 1114.51 L240.04 1114.88 L238.27 1115.25 L236.50 1115.61 L234.73 1115.98 L232.97 1116.36 L231.20 1116.77 L229.43 1117.21 L227.66 1117.71 L225.89 1118.26 L224.12 1118.84 L222.36 1119.43 L220.59 1120.01 L218.82 1120.55 L217.05 1121.09 L215.28 1121.62 L213.51 1122.15 L211.75 1122.66 L209.98 1123.17 L208.21 1123.66 L206.44 1124.15 L204.67 1124.61 L202.90 1125.07 L201.14 1125.51 L199.37 1125.94 L197.60 1126.36 L195.83 1126.78 L194.06 1127.19 L192.29 1127.60 L190.52 1128.02 L188.76 1128.44 L186.99 1128.85 L185.22 1129.26 L183.45 1129.67 L181.68 1130.09 L179.91 1130.50 L178.15 1130.92 L176.38 1131.35 L174.61 1131.78 L172.84 1132.22 L171.07 1132.67 L169.30 1133.11 L167.54 1133.56 L165.77 1134.01 L164.00 1134.45 L162.23 1134.89 L160.46 1135.32 L158.69 1135.74 L156.93 1136.16 L155.16 1136.58 L153.39 1136.99 L151.62 1137.40 L149.85 1137.81 L148.08 1138.22 L146.31 1138.63 L144.55 1139.04 L142.78 1139.46 L141.01 1139.89 L139.24 1140.32 L137.47 1140.74 L135.70 1141.16 L133.94 1141.57 L132.17 1141.96 L130.40 1142.33 L128.63 1142.69 L126.86 1143.08 L125.09 1143.47 L123.33 1143.86 L121.56 1144.21 L119.79 1144.52 L118.02 1144.77 L116.25 1144.93 L114.48 1145.00 L112.72 1145.03 L110.95 1145.05 L109.18 1145.05 L107.41 1145.04 L105.64 1145.01 L103.87 1145.03 L102.10 1145.08 L100.34 1145.10 L98.57 1145.10 L96.80 1145.10 L95.03 1145.10 L93.26 1145.10 L91.49 1145.10 L89.73 1145.10 L87.96 1145.10 L86.19 1145.10 L84.42 1145.10 L82.65 1145.10 L80.88 1145.10 L79.12 1145.10 L77.35 1145.10Z" fill="#1f77b4" fill-opacity="0.1" stroke="#1f77b4" stroke-opacity="0.1" stroke-width="1.39" stroke-linejoin="round"/>
<path d="M77.35 1145.10 L79.12 1145.10 L80.88 1145.10 L82.65 1145.10 L84.42 1145.10 L86.19 1145.10 L87.96 1145.10 L89.73 1145.10 L91.49 1145.10 L93.26 1145.10 L95.03 1145.10 L96.80 1145.10 L98.57 1145.10 L100.34 1145.10 L102.10 1145.08 L103.87 1145.03 L105.64 1144.94 L107.41 1144.78 L109.18 1144.60 L110.95 1144.41 L112.72 1144.21 L114.48 1144.00 L116.25 1143.77 L118.02 1143.44 L119.79 1143.04 L121.56 1142.58 L123.33 1142.08 L125.09 1141.55 L126.86 1141.02 L128.63 1140.49 L130.40 1139.99 L132.17 1139.49 L133.94 1138.97 L135.70 1138.43 L137.47 1137.89 L139.24 1137.34 L141.01 1136.79 L142.78 1136.24 L144.55 1135.71 L146.31 1135.19 L148.08 1134.67 L149.85 1134.15 L151.62 1133.63 L153.39 1133.12 L155.16 1132.61 L156.93 1132.09 L158.69 1131.57 L160.46 1131.05 L162.23 1130.52 L164.00 1129.99 L165.77 1129.46 L167.54 1128.92 L169.30 1128.39 L171.07 1127.86 L172.84 1127.34 L174.61 1126.83 L176.38 1126.32 L178.15 1125.83 L179.91 1125.34 L181.68 1124.85 L183.45 1124.37 L185.22 1123.88 L186.99 1123.40 L188.76 1122.92 L190.52 1122.44 L192.29 1121.96 L194.06 1121.48 L195.83 1121.01 L197.60 1120.53 L199.37 1120.06 L201.14 1119.57 L202.90 1119.08 L204.67 1118.58 L206.44 1118.07 L208.21 1117.55 L209.98 1117.02 L211.75 1116.48 L213.51 1115.94 L215.28 1115.39 L217.05 1114.84 L218.82 1114.29 L220.59 1113.73 L222.36 1113.15 L224.12 1112.55 L225.89 1111.96 L227.66 1111.41 L229.43 1110.90 L231.20 1110.45 L232.97 1110.04 L234.73 1109.65 L236.50 1109.28 L238.27 1108.91 L240.04 1108.54 L241.81 1108.16 L243.58 1107.79 L245.35 1107.42 L247.11 1107.06 L248.88 1106.70 L250.65 1106.35 L252.42 1106.00 L254.19 1105.65 L255.96 1105.31 L257.72 1104.97 L259.49 1104.63 L261.26 1104.30 L263.03 1103.97 L264.80 1103.64 L266.57 1103.33 L268.33 1103.03 L270.10 1102.74 L271.87 1102.46 L273.64 1102.19 L275.41 1101.93 L277.18 1101.67 L278.94 1101.42 L280.71 1101.18 L282.48 1100.94 L284.25 1100.71 L286.02 1100.49 L287.79 1100.29 L289.56 1100.09 L291.32 1099.91 L293.09 1099.72 L294.86 1099.53 L296.63 1099.34 L298.40 1099.13 L300.17 1098.91 L301.93 1098.68 L303.70 1098.45 L305.47 1098.21 L307.24 1097.95 L309.01 1097.69 L310.78 1097.41 L312.54 1097.11 L314.31 1096.79 L316.08 1096.44 L317.85 1096.05 L319.62 1095.62 L321.39 1095.16 L323.15 1094.67 L324.92 1094.16 L326.69 1093.63 L328.46 1093.10 L330.23 1092.56 L332.00 1092.02 L333.77 1091.49 L335.53 1090.98 L337.30 1090.47 L339.07 1089.95 L340.84 1089.43 L342.61 1088.90 L344.38 1088.36 L346.14 1087.82 L347.91 1087.27 L349.68 1086.72 L351.45 1086.15 L353.22 1085.57 L354.99 1084.97 L356.75 1084.37 L358.52 1083.76 L360.29 1083.16 L362.06 1082.56 L363.83 1081.98 L365.60 1081.41 L367.36 1080.86 L369.13 1080.32 L370.90 1079.79 L372.67 1079.26 L374.44 1078.73 L376.21 1078.21 L377.98 1077.68 L379.74 1077.15 L381.51 1076.61 L383.28 1076.06 L385.05 1075.51 L386.82 1074.95 L388.59 1074.40 L390.35 1073.86 L392.12 1073.34 L393.89 1072.84 L395.66 1072.36 L397.43 1071.91 L399.20 1071.47 L400.96 1071.05 L402.73 1070.63 L404.50 1070.22 L406.27 1069.80 L408.04 1069.39 L409.81 1068.97 L411.57 1068.54 L413.34 1068.12 L415.11 1067.71 L416.88 1067.29 L418.65 1066.87 L420.42 1066.45 L422.19 1066.03 L423.95 1065.60 L425.72 1065.17 L427.49 1064.75 L429.26 1064.33 L431.03 1063.92 L432.80 1063.50 L434.56 1063.07 L436.33 1062.62 L438.10 1062.14 L439.87 1061.63 L441.64 1061.08 L443.41 1060.49 L445.17 1059.85 L446.94 1059.17 L448.71 1058.44 L450.48 1057.67 L452.25 1056.84 L454.02 1055.94 L455.78 1054.98 L457.55 1053.98 L459.32 1052.94 L461.09 1051.87 L462.86 1050.76 L464.63 1049.59 L466.40 1048.37 L468.16 1047.07 L469.93 1045.71 L471.70 1044.27 L473.47 1042.75 L475.24 1041.14 L477.01 1039.42 L478.77 1037.60 L480.54 1035.64 L482.31 1033.45 L484.08 1031.05 L485.85 1028.51 L487.62 1025.91 L489.38 1023.32 L491.15 1020.80 L492.92 1018.24 L494.69 1015.66 L496.46 1013.07 L498.23 1010.50 L499.99 1007.97 L501.76 1005.50 L503.53 1003.08 L505.30 1000.70 L507.07 998.34 L508.84 995.98 L510.61 993.62 L512.37 991.23 L514.14 988.87 L515.91 986.51 L517.68 984.15 L519.45 981.75 L521.22 979.28 L522.98 976.69 L524.75 973.99 L526.52 971.20 L528.29 968.31 L530.06 965.27 L531.83 962.06 L533.59 958.71 L535.36 955.25 L537.13 951.71 L538.90 948.16 L540.67 944.63 L542.44 941.13 L544.21 937.61 L545.97 934.06 L547.74 930.49 L549.51 926.88 L551.28 923.25 L553.05 919.55 L554.82 915.77 L556.58 911.93 L558.35 908.07 L560.12 904.21 L561.89 900.38 L563.66 896.61 L565.43 892.92 L567.19 889.36 L568.96 885.90 L570.73 882.52 L572.50 879.19 L574.27 875.87 L576.04 872.52 L577.80 869.13 L579.57 865.65 L581.34 862.02 L583.11 858.33 L584.88 854.78 L586.65 851.37 L588.42 848.07 L590.18 844.93 L591.95 841.95 L593.72 839.08 L595.49 836.29 L597.26 833.54 L599.03 830.81 L600.79 828.06 L602.56 825.28 L604.33 822.50 L606.10 819.73 L607.87 816.97 L609.64 814.23 L611.40 811.51 L613.17 808.82 L614.94 806.16 L616.71 803.54 L618.48 800.97 L620.25 798.42 L622.01 795.89 L623.78 793.36 L625.55 790.81 L627.32 788.30 L629.09 785.81 L630.86 783.32 L632.63 780.81 L634.39 778.25 L636.16 775.62 L637.93 772.86 L639.70 769.90 L641.47 766.86 L643.24 763.90 L645.00 761.16 L646.77 758.62 L648.54 756.17 L650.31 753.81 L652.08 751.57 L653.85 749.45 L655.61 747.47 L657.38 745.61 L659.15 743.85 L660.92 742.17 L662.69 740.55 L664.46 738.96 L666.22 737.33 L667.99 735.68 L669.76 734.04 L671.53 732.41 L673.30 730.81 L675.07 729.27 L676.84 727.77 L678.60 726.30 L680.37 724.86 L682.14 723.46 L683.91 722.08 L685.68 720.75 L687.45 719.44 L689.21 718.16 L690.98 716.91 L692.75 715.69 L694.52 714.51 L696.29 713.37 L698.06 712.27 L699.82 711.20 L701.59 710.14 L703.36 709.09 L705.13 708.02 L706.90 706.92 L708.67 705.79 L710.43 704.67 L712.20 703.58 L713.97 702.55 L715.74 701.59 L717.51 700.67 L719.28 699.77 L721.05 698.91 L722.81 698.08 L724.58 697.28 L726.35 696.53 L728.12 695.82 L728.12 725.82 L726.35 726.42 L724.58 727.06 L722.81 727.74 L721.05 728.46 L719.28 729.22 L717.51 730.01 L715.74 730.84 L713.97 731.71 L712.20 732.66 L710.43 733.67 L708.67 734.72 L706.90 735.78 L705.13 736.83 L703.36 737.85 L701.59 738.87 L699.82 739.91 L698.06 740.96 L696.29 742.04 L694.52 743.17 L692.75 744.34 L690.98 745.55 L689.21 746.79 L687.45 748.06 L685.68 749.36 L683.91 750.68 L682.14 752.04 L680.37 753.44 L678.60 754.86 L676.84 756.32 L675.07 757.80 L673.30 759.34 L671.53 760.94 L669.76 762.59 L667.99 764.26 L666.22 765.94 L664.46 767.60 L662.69 769.20 L660.92 770.78 L659.15 772.38 L657.38 774.03 L655.61 775.80 L653.85 777.72 L652.08 779.77 L650.31 781.93 L648.54 784.19 L646.77 786.55 L645.00 788.99 L643.24 791.62 L641.47 794.48 L639.70 797.41 L637.93 800.25 L636.16 802.88 L634.39 805.39 L632.63 807.82 L630.86 810.21 L629.09 812.56 L627.32 814.90 L625.55 817.24 L623.78 819.60 L622.01 821.94 L620.25 824.27 L618.48 826.61 L616.71 828.97 L614.94 831.37 L613.17 833.81 L611.40 836.30 L609.64 838.81 L607.87 841.37 L606.10 843.94 L604.33 846.53 L602.56 849.12 L600.79 851.73 L599.03 854.30 L597.26 856.86 L595.49 859.43 L593.72 862.05 L591.95 864.75 L590.18 867.55 L588.42 870.51 L586.65 873.62 L584.88 876.84 L583.11 880.19 L581.34 883.67 L579.57 887.08 L577.80 890.33 L576.04 893.48 L574.27 896.56 L572.50 899.58 L570.73 902.60 L568.96 905.63 L567.19 908.74 L565.43 911.95 L563.66 915.27 L561.89 918.70 L560.12 922.20 L558.35 925.77 L556.58 929.36 L554.82 932.95 L553.05 936.50 L551.28 939.98 L549.51 943.41 L547.74 946.81 L545.97 950.19 L544.21 953.53 L542.44 956.85 L540.67 960.15 L538.90 963.47 L537.13 966.80 L535.36 970.10 L533.59 973.31 L531.83 976.39 L530.06 979.28 L528.29 981.96 L526.52 984.50 L524.75 986.93 L522.98 989.31 L521.22 991.63 L519.45 993.91 L517.68 996.14 L515.91 998.35 L514.14 1000.57 L512.37 1002.81 L510.61 1005.08 L508.84 1007.34 L507.07 1009.60 L505.30 1011.86 L503.53 1014.15 L501.76 1016.48 L499.99 1018.85 L498.23 1021.29 L496.46 1023.75 L494.69 1026.23 L492.92 1028.70 L491.15 1031.12 L489.38 1033.50 L487.62 1035.92 L485.85 1038.32 L484.08 1040.64 L482.31 1042.80 L480.54 1044.75 L478.77 1046.45 L477.01 1048.01 L475.24 1049.47 L473.47 1050.82 L471.70 1052.08 L469.93 1053.28 L468.16 1054.42 L466.40 1055.50 L464.63 1056.54 L462.86 1057.55 L461.09 1058.53 L459.32 1059.51 L457.55 1060.46 L455.78 1061.38 L454.02 1062.26 L452.25 1063.08 L450.48 1063.84 L448.71 1064.54 L446.94 1065.20 L445.17 1065.81 L443.41 1066.38 L441.64 1066.92 L439.87 1067.40 L438.10 1067.85 L436.33 1068.27 L434.56 1068.66 L432.80 1069.03 L431.03 1069.39 L429.26 1069.75 L427.49 1070.10 L425.72 1070.47 L423.95 1070.84 L422.19 1071.21 L420.42 1071.58 L418.65 1071.94 L416.88 1072.31 L415.11 1072.67 L413.34 1073.04 L411.57 1073.41 L409.81 1073.78 L408.04 1074.15 L406.27 1074.51 L404.50 1074.87 L402.73 1075.23 L400.96 1075.59 L399.20 1075.96 L397.43 1076.34 L395.66 1076.74 L393.89 1077.15 L392.12 1077.60 L390.35 1078.06 L388.59 1078.54 L386.82 1079.04 L385.05 1079.54 L383.28 1080.05 L381.51 1080.55 L379.74 1081.05 L377.98 1081.54 L376.21 1082.03 L374.44 1082.51 L372.67 1082.99 L370.90 1083.48 L369.13 1083.97 L367.36 1084.47 L365.60 1084.98 L363.83 1085.51 L362.06 1086.06 L360.29 1086.62 L358.52 1087.20 L356.75 1087.78 L354.99 1088.37 L353.22 1088.95 L351.45 1089.52 L349.68 1090.09 L347.91 1090.64 L346.14 1091.19 L344.38 1091.74 L342.61 1092.28 L340.84 1092.81 L339.07 1093.35 L337.30 1093.88 L335.53 1094.41 L333.77 1094.94 L332.00 1095.48 L330.23 1096.03 L328.46 1096.59 L326.69 1097.14 L324.92 1097.69 L323.15 1098.22 L321.39 1098.73 L319.62 1099.22 L317.85 1099.67 L316.08 1100.08 L314.31 1100.45 L312.54 1100.79 L310.78 1101.11 L309.01 1101.41 L307.24 1101.69 L305.47 1101.96 L303.70 1102.22 L301.93 1102.46 L300.17 1102.71 L298.40 1102.94 L296.63 1103.16 L294.86 1103.37 L293.09 1103.57 L291.32 1103.76 L289.56 1103.97 L287.79 1104.17 L286.02 1104.39 L284.25 1104.62 L282.48 1104.86 L280.71 1105.11 L278.94 1105.36 L277.18 1105.62 L275.41 1105.88 L273.64 1106.15 L271.87 1106.43 L270.10 1106.71 L268.33 1107.00 L266.57 1107.31 L264.80 1107.62 L263.03 1107.95 L261.26 1108.28 L259.49 1108.62 L257.72 1108.96 L255.96 1109.30 L254.19 1109.64 L252.42 1109.99 L250.65 1110.33 L248.88 1110.69 L247.11 1111.04 L245.35 1111.40 L243.58 1111.77 L241.81 1112.13 L240.04 1112.50 L238.27 1112.87 L236.50 1113.23 L234.73 1113.60 L232.97 1113.98 L231.20 1114.39 L229.43 1114.83 L227.66 1115.33 L225.89 1115.88 L224.12 1116.46 L222.36 1117.05 L220.59 1117.63 L218.82 1118.17 L217.05 1118.72 L215.28 1119.25 L213.51 1119.78 L211.75 1120.31 L209.98 1120.83 L208.21 1121.34 L206.44 1121.83 L204.67 1122.32 L202.90 1122.79 L201.14 1123.25 L199.37 1123.70 L197.60 1124.15 L195.83 1124.59 L194.06 1125.03 L192.29 1125.47 L190.52 1125.91 L188.76 1126.35 L186.99 1126.79 L185.22 1127.23 L183.45 1127.67 L181.68 1128.11 L179.91 1128.56 L178.15 1129.00 L176.38 1129.46 L174.61 1129.92 L172.84 1130.39 L171.07 1130.86 L169.30 1131.34 L167.54 1131.82 L165.77 1132.30 L164.00 1132.78 L162.23 1133.25 L160.46 1133.72 L158.69 1134.18 L156.93 1134.64 L155.16 1135.10 L153.39 1135.55 L151.62 1136.00 L149.85 1136.45 L148.08 1136.91 L146.31 1137.36 L144.55 1137.82 L142.78 1138.28 L141.01 1138.76 L139.24 1139.23 L137.47 1139.71 L135.70 1140.18 L133.94 1140.64 L132.17 1141.08 L130.40 1141.50 L128.63 1141.92 L126.86 1142.36 L125.09 1142.80 L123.33 1143.24 L121.56 1143.66 L119.79 1144.02 L118.02 1144.32 L116.25 1144.54 L114.48 1144.67 L112.72 1144.76 L110.95 1144.84 L109.18 1144.90 L107.41 1144.95 L105.64 1144.98 L103.87 1145.03 L102.10 1145.08 L100.34 1145.10 L98.57 1145.10 L96.80 1145.10 L95.03 1145.10 L93.26 1145.10 L91.49 1145.10 L89.73 1145.10 L87.96 1145.10 L86.19 1145.10 L84.42 1145.10 L82.65 1145.10 L80.88 1145.10 L79.12 1145.10 L77.35 1145.10Z" fill="#1f77b4" fill-opacity="0.1" stroke="#1f77b4" stroke-opacity="0.1" stroke-width="1.39" stroke-linejoin="round"/>
<path d="M728.12 719.43 L729.89 718.38 L731.66 717.29 L733.42 716.20 L735.19 715.11 L736.96 714.06 L738.73 713.06 L740.50 712.12 L742.27 711.23 L744.03 710.36 L745.80 709.53 L747.57 708.75 L749.34 708.03 L751.11 707.38 L752.88 706.81 L754.64 706.27 L756.41 705.76 L758.18 705.24 L759.95 704.69 L761.72 704.10 L763.49 703.48 L765.26 702.86 L767.02 702.25 L768.79 701.68 L770.56 701.17 L772.33 700.70 L774.10 700.26 L775.87 699.85 L777.63 699.46 L777.63 712.46 L775.87 712.49 L774.10 712.54 L772.33 712.63 L770.56 712.74 L768.79 712.89 L767.02 713.11 L765.26 713.36 L763.49 713.63 L761.72 713.89 L759.95 714.12 L758.18 714.31 L756.41 714.47 L754.64 714.63 L752.88 714.81 L751.11 715.03 L749.34 715.31 L747.57 715.67 L745.80 716.10 L744.03 716.57 L742.27 717.08 L740.50 717.62 L738.73 718.20 L736.96 718.84 L735.19 719.54 L733.42 720.27 L731.66 721.01 L729.89 721.73 L728.12 722.43Z" fill="#1f77b4" fill-opacity="0.1" stroke="#1f77b4" stroke-opacity="0.1" stroke-width="1.39" stroke-linejoin="round"/>
<path d="M728.12 719.93 L729.89 718.93 L731.66 717.90 L733.42 716.87 L735.19 715.84 L736.96 714.85 L738.73 713.91 L740.50 713.03 L742.27 712.19 L744.03 711.38 L745.80 710.61 L747.57 709.89 L749.34 709.23 L751.11 708.65 L752.88 708.13 L754.64 707.65 L756.41 707.20 L758.18 706.74 L759.95 706.25 L761.72 705.72 L763.49 705.16 L765.26 704.59 L767.02 704.04 L768.79 703.53 L770.56 703.08 L772.33 702.67 L774.10 702.29 L775.87 701.93 L777.63 701.61 L777.63 710.32 L775.87 710.40 L774.10 710.52 L772.33 710.66 L770.56 710.83 L768.79 711.04 L767.02 711.31 L765.26 711.62 L763.49 711.95 L761.72 712.27 L759.95 712.57 L758.18 712.81 L756.41 713.03 L754.64 713.25 L752.88 713.49 L751.11 713.77 L749.34 714.11 L747.57 714.53 L745.80 715.01 L744.03 715.54 L742.27 716.12 L740.50 716.72 L738.73 717.35 L736.96 718.06 L735.19 718.81 L733.42 719.60 L731.66 720.39 L729.89 721.18 L728.12 721.94Z" fill="#1f77b4" fill-opacity="0.1" stroke="#1f77b4" stroke-opacity="0.1" stroke-width="1.39" stroke-linejoin="round"/>
<path d="M728.12 720.44 L729.89 719.50 L731.66 718.54 L733.42 717.56 L735.19 716.60 L736.96 715.66 L738.73 714.78 L740.50 713.97 L742.27 713.19 L744.03 712.44 L745.80 711.73 L747.57 711.07 L749.34 710.47 L751.11 709.94 L752.88 709.49 L754.64 709.07 L756.41 708.68 L758.18 708.28 L759.95 707.85 L761.72 707.38 L763.49 706.88 L765.26 706.37 L767.02 705.89 L768.79 705.44 L770.56 705.05 L772.33 704.70 L774.10 704.37 L775.87 704.08 L777.63 703.82 L777.63 708.11 L775.87 708.25 L774.10 708.43 L772.33 708.63 L770.56 708.87 L768.79 709.14 L767.02 709.47 L765.26 709.84 L763.49 710.23 L761.72 710.61 L759.95 710.96 L758.18 711.27 L756.41 711.55 L754.64 711.83 L752.88 712.13 L751.11 712.47 L749.34 712.87 L747.57 713.35 L745.80 713.90 L744.03 714.49 L742.27 715.12 L740.50 715.78 L738.73 716.48 L736.96 717.24 L735.19 718.06 L733.42 718.90 L731.66 719.76 L729.89 720.61 L728.12 721.43Z" fill="#1f77b4" fill-opacity="0.1" stroke="#1f77b4" stroke-opacity="0.1" stroke-width="1.39" stroke-linejoin="round"/>
</g>
<path d="M77.50 1026.50H778.50" stroke="#b0b0b0" stroke-width="1.11"/>
<path d="M77.50 906.50H778.50" stroke="#b0b0b0" stroke-width="1.11"/>
<path d="M77.50 787.50H778.50" stroke="#b0b0b0" stroke-width="1.11"/>
<path d="M77.50 667.50H778.50" stroke="#b0b0b0" stroke-width="1.11"/>
<g clip-path="url(#clip1)">
<path d="M77.35 1145.10 L79.12 1145.10 L80.88 1145.10 L82.65 1145.10 L84.42 1145.10 L86.19 1145.10 L87.96 1145.10 L89.73 1145.10 L91.49 1145.10 L93.26 1145.10 L95.03 1145.10 L96.80 1145.10 L98.57 1145.10 L100.34 1145.10 L102.10 1145.08 L103.87 1145.03 L105.64 1144.96 L107.41 1144.87 L109.18 1144.76 L110.95 1144.63 L112.72 1144.49 L114.48 1144.34 L116.25 1144.16 L118.02 1143.89 L119.79 1143.53 L121.56 1143.11 L123.33 1142.65 L125.09 1142.16 L126.86 1141.66 L128.63 1141.16 L130.40 1140.70 L132.17 1140.22 L133.94 1139.73 L135.70 1139.22 L137.47 1138.71 L139.24 1138.18 L141.01 1137.66 L142.78 1137.14 L144.55 1136.63 L146.31 1136.13 L148.08 1135.63 L149.85 1135.14 L151.62 1134.65 L153.39 1134.15 L155.16 1133.66 L156.93 1133.17 L158.69 1132.67 L160.46 1132.17 L162.23 1131.66 L164.00 1131.15 L165.77 1130.64 L167.54 1130.13 L169.30 1129.61 L171.07 1129.11 L172.84 1128.60 L174.61 1128.11 L176.38 1127.62 L178.15 1127.14 L179.91 1126.67 L181.68 1126.20 L183.45 1125.73 L185.22 1125.26 L186.99 1124.80 L188.76 1124.33 L190.52 1123.86 L192.29 1123.39 L194.06 1122.93 L195.83 1122.47 L197.60 1122.00 L199.37 1121.54 L201.14 1121.06 L202.90 1120.58 L204.67 1120.09 L206.44 1119.59 L208.21 1119.08 L209.98 1118.56 L211.75 1118.03 L213.51 1117.49 L215.28 1116.95 L217.05 1116.41 L218.82 1115.86 L220.59 1115.32 L222.36 1114.74 L224.12 1114.15 L225.89 1113.57 L227.66 1113.02 L229.43 1112.52 L231.20 1112.08 L232.97 1111.67 L234.73 1111.29 L236.50 1110.92 L238.27 1110.56 L240.04 1110.19 L241.81 1109.82 L243.58 1109.46 L245.35 1109.10 L247.11 1108.74 L248.88 1108.39 L250.65 1108.04 L252.42 1107.69 L254.19 1107.35 L255.96 1107.02 L257.72 1106.68 L259.49 1106.35 L261.26 1106.02 L263.03 1105.69 L264.80 1105.38 L266.57 1105.07 L268.33 1104.77 L270.10 1104.48 L271.87 1104.21 L273.64 1103.94 L275.41 1103.68 L277.18 1103.43 L278.94 1103.19 L280.71 1102.95 L282.48 1102.72 L284.25 1102.49 L286.02 1102.28 L287.79 1102.08 L289.56 1101.89 L291.32 1101.70 L293.09 1101.52 L294.86 1101.34 L296.63 1101.15 L298.40 1100.95 L300.17 1100.73 L301.93 1100.50 L303.70 1100.27 L305.47 1100.03 L307.24 1099.78 L309.01 1099.52 L310.78 1099.24 L312.54 1098.95 L314.31 1098.63 L316.08 1098.28 L317.85 1097.90 L319.62 1097.47 L321.39 1097.01 L323.15 1096.52 L324.92 1096.01 L326.69 1095.49 L328.46 1094.96 L330.23 1094.42 L332.00 1093.89 L333.77 1093.36 L335.53 1092.85 L337.30 1092.33 L339.07 1091.82 L340.84 1091.30 L342.61 1090.77 L344.38 1090.24 L346.14 1089.70 L347.91 1089.15 L349.68 1088.60 L351.45 1088.04 L353.22 1087.45 L354.99 1086.86 L356.75 1086.25 L358.52 1085.65 L360.29 1085.05 L362.06 1084.45 L363.83 1083.87 L365.60 1083.31 L367.36 1082.76 L369.13 1082.23 L370.90 1081.70 L372.67 1081.17 L374.44 1080.65 L376.21 1080.13 L377.98 1079.60 L379.74 1079.08 L381.51 1078.54 L383.28 1077.99 L385.05 1077.44 L386.82 1076.89 L388.59 1076.35 L390.35 1075.81 L392.12 1075.29 L393.89 1074.80 L395.66 1074.33 L397.43 1073.88 L399.20 1073.45 L400.96 1073.03 L402.73 1072.63 L404.50 1072.23 L406.27 1071.83 L408.04 1071.44 L409.81 1071.04 L411.57 1070.65 L413.34 1070.26 L415.11 1069.88 L416.88 1069.50 L418.65 1069.12 L420.42 1068.74 L422.19 1068.36 L423.95 1067.98 L425.72 1067.59 L427.49 1067.22 L429.26 1066.85 L431.03 1066.48 L432.80 1066.11 L434.56 1065.73 L436.33 1065.33 L438.10 1064.90 L439.87 1064.44 L441.64 1063.93 L443.41 1063.39 L445.17 1062.80 L446.94 1062.18 L448.71 1061.51 L450.48 1060.80 L452.25 1060.03 L454.02 1059.19 L455.78 1058.30 L457.55 1057.36 L459.32 1056.38 L461.09 1055.38 L462.86 1054.33 L464.63 1053.23 L466.40 1052.07 L468.16 1050.85 L469.93 1049.55 L471.70 1048.18 L473.47 1046.73 L475.24 1045.19 L477.01 1043.55 L478.77 1041.79 L480.54 1039.90 L482.31 1037.78 L484.08 1035.45 L485.85 1032.98 L487.62 1030.44 L489.38 1027.92 L491.15 1025.46 L492.92 1022.96 L494.69 1020.43 L496.46 1017.89 L498.23 1015.37 L499.99 1012.88 L501.76 1010.46 L503.53 1008.09 L505.30 1005.76 L507.07 1003.44 L508.84 1001.14 L510.61 998.83 L512.37 996.51 L514.14 994.21 L515.91 991.93 L517.68 989.64 L519.45 987.33 L521.22 984.97 L522.98 982.52 L524.75 980.01 L526.52 977.43 L528.29 974.74 L530.06 971.90 L531.83 968.88 L533.59 965.69 L535.36 962.37 L537.13 958.97 L538.90 955.54 L540.67 952.13 L542.44 948.75 L544.21 945.35 L545.97 941.92 L547.74 938.46 L549.51 934.97 L551.28 931.44 L553.05 927.86 L554.82 924.20 L556.58 920.48 L558.35 916.75 L560.12 913.01 L561.89 909.31 L563.66 905.68 L565.43 902.13 L567.19 898.70 L568.96 895.37 L570.73 892.13 L572.50 888.92 L574.27 885.73 L576.04 882.51 L577.80 879.23 L579.57 875.86 L581.34 872.33 L583.11 868.73 L584.88 865.28 L586.65 861.96 L588.42 858.75 L590.18 855.69 L591.95 852.79 L593.72 850.00 L595.49 847.29 L597.26 844.63 L599.03 841.98 L600.79 839.31 L602.56 836.62 L604.33 833.93 L606.10 831.24 L607.87 828.56 L609.64 825.91 L611.40 823.27 L613.17 820.66 L614.94 818.09 L616.71 815.55 L618.48 813.06 L620.25 810.60 L622.01 808.15 L623.78 805.69 L625.55 803.23 L627.32 800.80 L629.09 798.40 L630.86 795.99 L632.63 793.57 L634.39 791.09 L636.16 788.54 L637.93 785.87 L639.70 782.99 L641.47 780.03 L643.24 777.15 L645.00 774.49 L646.77 772.04 L648.54 769.67 L650.31 767.41 L652.08 765.26 L653.85 763.24 L655.61 761.37 L657.38 759.65 L659.15 758.06 L660.92 756.53 L662.69 755.02 L664.46 753.49 L666.22 751.89 L667.99 750.27 L669.76 748.65 L671.53 747.04 L673.30 745.47 L675.07 743.94 L676.84 742.46 L678.60 741.00 L680.37 739.58 L682.14 738.18 L683.91 736.82 L685.68 735.50 L687.45 734.20 L689.21 732.93 L690.98 731.69 L692.75 730.48 L694.52 729.31 L696.29 728.18 L698.06 727.10 L699.82 726.05 L701.59 725.01 L703.36 723.97 L705.13 722.92 L706.90 721.84 L708.67 720.73 L710.43 719.63 L712.20 718.57 L713.97 717.55 L715.74 716.62 L717.51 715.71 L719.28 714.84 L721.05 714.00 L722.81 713.19 L724.58 712.42 L726.35 711.68 L728.12 710.99" fill="none" stroke="#1f77b4" stroke-width="2.08" stroke-linejoin="round" stroke-linecap="square"/>
<path d="M728.12 720.93 L729.89 720.06 L731.66 719.15 L733.42 718.23 L735.19 717.33 L736.96 716.45 L738.73 715.63 L740.50 714.87 L742.27 714.15 L744.03 713.46 L745.80 712.81 L747.57 712.21 L749.34 711.67 L751.11 711.21 L752.88 710.81 L754.64 710.45 L756.41 710.12 L758.18 709.78 L759.95 709.41 L761.72 709.00 L763.49 708.55 L765.26 708.11 L767.02 707.68 L768.79 707.29 L770.56 706.96 L772.33 706.67 L774.10 706.40 L775.87 706.17 L777.63 705.96" fill="none" stroke="#1f77b4" stroke-width="2.08" stroke-linejoin="round" stroke-linecap="square"/>
<g fill="#ff7f0e">
<circle cx="77.35" cy="1145.10" r="5.3"/>
<circle cx="79.12" cy="1145.10" r="5.3"/>
<circle cx="80.88" cy="1145.10" r="5.3"/>
<circle cx="82.65" cy="1145.10" r="5.3"/>
<circle cx="84.42" cy="1145.10" r="5.3"/>
<circle cx="86.19" cy="1145.10" r="5.3"/>
<circle cx="87.96" cy="1145.10" r="5.3"/>
<circle cx="89.73" cy="1145.10" r="5.3"/>
<circle cx="91.49" cy="1145.10" r="5.3"/>
<circle cx="93.26" cy="1145.10" r="5.3"/>
<circle cx="95.03" cy="1145.10" r="5.3"/>
<circle cx="96.80" cy="1145.10" r="5.3"/>
<circle cx="98.57" cy="1145.10" r="5.3"/>
<circle cx="100.34" cy="1145.10" r="5.3"/>
<circle cx="102.10" cy="1145.08" r="5.3"/>
<circle cx="103.87" cy="1145.04" r="5.3"/>
<circle cx="105.64" cy="1144.97" r="5.3"/>
<circle cx="107.41" cy="1144.90" r="5.3"/>
<circle cx="109.18" cy="1144.84" r="5.3"/>
<circle cx="110.95" cy="1144.75" r="5.3"/>
<circle cx="112.72" cy="1144.56" r="5.3"/>
<circle cx="114.48" cy="1144.36" r="5.3"/>
<circle cx="116.25" cy="1144.17" r="5.3"/>
<circle cx="118.02" cy="1143.97" r="5.3"/>
<circle cx="119.79" cy="1143.77" r="5.3"/>
<circle cx="121.56" cy="1143.59" r="5.3"/>
<circle cx="123.33" cy="1143.32" r="5.3"/>
<circle cx="125.09" cy="1142.54" r="5.3"/>
<circle cx="126.86" cy="1141.57" r="5.3"/>
<circle cx="128.63" cy="1140.64" r="5.3"/>
<circle cx="130.40" cy="1139.83" r="5.3"/>
<circle cx="132.17" cy="1139.17" r="5.3"/>
<circle cx="133.94" cy="1138.70" r="5.3"/>
<circle cx="135.70" cy="1138.25" r="5.3"/>
<circle cx="137.47" cy="1137.52" r="5.3"/>
<circle cx="139.24" cy="1136.81" r="5.3"/>
<circle cx="141.01" cy="1136.18" r="5.3"/>
<circle cx="142.78" cy="1135.58" r="5.3"/>
<circle cx="144.55" cy="1135.04" r="5.3"/>
<circle cx="146.31" cy="1134.64" r="5.3"/>
<circle cx="148.08" cy="1134.25" r="5.3"/>
<circle cx="149.85" cy="1133.59" r="5.3"/>
<circle cx="151.62" cy="1132.94" r="5.3"/>
<circle cx="153.39" cy="1132.37" r="5.3"/>
<circle cx="155.16" cy="1131.82" r="5.3"/>
<circle cx="156.93" cy="1131.32" r="5.3"/>
<circle cx="158.69" cy="1130.94" r="5.3"/>
<circle cx="160.46" cy="1130.56" r="5.3"/>
<circle cx="162.23" cy="1129.91" r="5.3"/>
<circle cx="164.00" cy="1129.26" r="5.3"/>
<circle cx="165.77" cy="1128.66" r="5.3"/>
<circle cx="167.54" cy="1128.09" r="5.3"/>
<circle cx="169.30" cy="1127.58" r="5.3"/>
<circle cx="171.07" cy="1127.20" r="5.3"/>
<circle cx="172.84" cy="1126.82" r="5.3"/>
<circle cx="174.61" cy="1126.19" r="5.3"/>
<circle cx="176.38" cy="1125.58" r="5.3"/>
<circle cx="178.15" cy="1125.04" r="5.3"/>
<circle cx="179.91" cy="1124.52" r="5.3"/>
<circle cx="181.68" cy="1124.06" r="5.3"/>
<circle cx="183.45" cy="1123.72" r="5.3"/>
<circle cx="185.22" cy="1123.38" r="5.3"/>
<circle cx="186.99" cy="1122.79" r="5.3"/>
<circle cx="188.76" cy="1122.21" r="5.3"/>
<circle cx="190.52" cy="1121.68" r="5.3"/>
<circle cx="192.29" cy="1121.18" r="5.3"/>
<circle cx="194.06" cy="1120.73" r="5.3"/>
<circle cx="195.83" cy="1120.40" r="5.3"/>
<circle cx="197.60" cy="1120.06" r="5.3"/>
<circle cx="199.37" cy="1119.47" r="5.3"/>
<circle cx="201.14" cy="1118.88" r="5.3"/>
<circle cx="202.90" cy="1118.31" r="5.3"/>
<circle cx="204.67" cy="1117.73" r="5.3"/>
<circle cx="206.44" cy="1117.18" r="5.3"/>
<circle cx="208.21" cy="1116.77" r="5.3"/>
<circle cx="209.98" cy="1116.34" r="5.3"/>
<circle cx="211.75" cy="1115.58" r="5.3"/>
<circle cx="213.51" cy="1114.80" r="5.3"/>
<circle cx="215.28" cy="1114.05" r="5.3"/>
<circle cx="217.05" cy="1113.28" r="5.3"/>
<circle cx="218.82" cy="1112.55" r="5.3"/>
<circle cx="220.59" cy="1111.97" r="5.3"/>
<circle cx="222.36" cy="1111.29" r="5.3"/>
<circle cx="224.12" cy="1110.04" r="5.3"/>
<circle cx="225.89" cy="1108.84" r="5.3"/>
<circle cx="227.66" cy="1107.85" r="5.3"/>
<circle cx="229.43" cy="1107.13" r="5.3"/>
<circle cx="231.20" cy="1106.63" r="5.3"/>
<circle cx="232.97" cy="1106.32" r="5.3"/>
<circle cx="234.73" cy="1106.05" r="5.3"/>
<circle cx="236.50" cy="1105.63" r="5.3"/>
<circle cx="238.27" cy="1105.22" r="5.3"/>
<circle cx="240.04" cy="1104.83" r="5.3"/>
<circle cx="241.81" cy="1104.44" r="5.3"/>
<circle cx="243.58" cy="1104.10" r="5.3"/>
<circle cx="245.35" cy="1103.84" r="5.3"/>
<circle cx="247.11" cy="1103.58" r="5.3"/>
<circle cx="248.88" cy="1103.15" r="5.3"/>
<circle cx="250.65" cy="1102.73" r="5.3"/>
<circle cx="252.42" cy="1102.34" r="5.3"/>
<circle cx="254.19" cy="1101.98" r="5.3"/>
<circle cx="255.96" cy="1101.65" r="5.3"/>
<circle cx="257.72" cy="1101.40" r="5.3"/>
<circle cx="259.49" cy="1101.15" r="5.3"/>
<circle cx="261.26" cy="1100.72" r="5.3"/>
<circle cx="263.03" cy="1100.31" r="5.3"/>
<circle cx="264.80" cy="1099.94" r="5.3"/>
<circle cx="266.57" cy="1099.61" r="5.3"/>
<circle cx="268.33" cy="1099.32" r="5.3"/>
<circle cx="270.10" cy="1099.11" r="5.3"/>
<circle cx="271.87" cy="1098.92" r="5.3"/>
<circle cx="273.64" cy="1098.59" r="5.3"/>
<circle cx="275.41" cy="1098.29" r="5.3"/>
<circle cx="277.18" cy="1098.03" r="5.3"/>
<circle cx="278.94" cy="1097.78" r="5.3"/>
<circle cx="280.71" cy="1097.57" r="5.3"/>
<circle cx="282.48" cy="1097.42" r="5.3"/>
<circle cx="284.25" cy="1097.26" r="5.3"/>
<circle cx="286.02" cy="1097.02" r="5.3"/>
<circle cx="287.79" cy="1096.79" r="5.3"/>
<circle cx="289.56" cy="1096.59" r="5.3"/>
<circle cx="291.32" cy="1096.41" r="5.3"/>
<circle cx="293.09" cy="1096.25" r="5.3"/>
<circle cx="294.86" cy="1096.13" r="5.3"/>
<circle cx="296.63" cy="1096.01" r="5.3"/>
<circle cx="298.40" cy="1095.79" r="5.3"/>
<circle cx="300.17" cy="1095.57" r="5.3"/>
<circle cx="301.93" cy="1095.37" r="5.3"/>
<circle cx="303.70" cy="1095.17" r="5.3"/>
<circle cx="305.47" cy="1094.99" r="5.3"/>
<circle cx="307.24" cy="1094.86" r="5.3"/>
<circle cx="309.01" cy="1094.72" r="5.3"/>
<circle cx="310.78" cy="1094.46" r="5.3"/>
<circle cx="312.54" cy="1094.17" r="5.3"/>
<circle cx="314.31" cy="1093.86" r="5.3"/>
<circle cx="316.08" cy="1093.51" r="5.3"/>
<circle cx="317.85" cy="1093.13" r="5.3"/>
<circle cx="319.62" cy="1092.82" r="5.3"/>
<circle cx="321.39" cy="1092.47" r="5.3"/>
<circle cx="323.15" cy="1091.83" r="5.3"/>
<circle cx="324.92" cy="1091.19" r="5.3"/>
<circle cx="326.69" cy="1090.59" r="5.3"/>
<circle cx="328.46" cy="1090.03" r="5.3"/>
<circle cx="330.23" cy="1089.55" r="5.3"/>
<circle cx="332.00" cy="1089.19" r="5.3"/>
<circle cx="333.77" cy="1088.83" r="5.3"/>
<circle cx="335.53" cy="1088.23" r="5.3"/>
<circle cx="337.30" cy="1087.62" r="5.3"/>
<circle cx="339.07" cy="1087.07" r="5.3"/>
<circle cx="340.84" cy="1086.54" r="5.3"/>
<circle cx="342.61" cy="1086.06" r="5.3"/>
<circle cx="344.38" cy="1085.71" r="5.3"/>
<circle cx="346.14" cy="1085.35" r="5.3"/>
<circle cx="347.91" cy="1084.75" r="5.3"/>
<circle cx="349.68" cy="1084.16" r="5.3"/>
<circle cx="351.45" cy="1083.62" r="5.3"/>
<circle cx="353.22" cy="1083.11" r="5.3"/>
<circle cx="354.99" cy="1082.64" r="5.3"/>
<circle cx="356.75" cy="1082.29" r="5.3"/>
<circle cx="358.52" cy="1081.95" r="5.3"/>
<circle cx="360.29" cy="1081.37" r="5.3"/>
<circle cx="362.06" cy="1080.81" r="5.3"/>
<circle cx="363.83" cy="1080.32" r="5.3"/>
<circle cx="365.60" cy="1079.86" r="5.3"/>
<circle cx="367.36" cy="1079.46" r="5.3"/>
<circle cx="369.13" cy="1079.17" r="5.3"/>
<circle cx="370.90" cy="1078.89" r="5.3"/>
<circle cx="372.67" cy="1078.41" r="5.3"/>
<circle cx="374.44" cy="1077.94" r="5.3"/>
<circle cx="376.21" cy="1077.52" r="5.3"/>
<circle cx="377.98" cy="1077.11" r="5.3"/>
<circle cx="379.74" cy="1076.73" r="5.3"/>
<circle cx="381.51" cy="1076.45" r="5.3"/>
<circle cx="383.28" cy="1076.16" r="5.3"/>
<circle cx="385.05" cy="1075.66" r="5.3"/>
<circle cx="386.82" cy="1075.18" r="5.3"/>
<circle cx="388.59" cy="1074.73" r="5.3"/>
<circle cx="390.35" cy="1074.32" r="5.3"/>
<circle cx="392.12" cy="1073.94" r="5.3"/>
<circle cx="393.89" cy="1073.67" r="5.3"/>
<circle cx="395.66" cy="1073.40" r="5.3"/>
<circle cx="397.43" cy="1072.96" r="5.3"/>
<circle cx="399.20" cy="1072.53" r="5.3"/>
<circle cx="400.96" cy="1072.15" r="5.3"/>
<circle cx="402.73" cy="1071.79" r="5.3"/>
<circle cx="404.50" cy="1071.47" r="5.3"/>
<circle cx="406.27" cy="1071.23" r="5.3"/>
<circle cx="408.04" cy="1070.99" r="5.3"/>
<circle cx="409.81" cy="1070.59" r="5.3"/>
<circle cx="411.57" cy="1070.19" r="5.3"/>
<circle cx="413.34" cy="1069.83" r="5.3"/>
<circle cx="415.11" cy="1069.50" r="5.3"/>
<circle cx="416.88" cy="1069.19" r="5.3"/>
<circle cx="418.65" cy="1068.97" r="5.3"/>
<circle cx="420.42" cy="1068.73" r="5.3"/>
<circle cx="422.19" cy="1068.33" r="5.3"/>
<circle cx="423.95" cy="1067.93" r="5.3"/>
<circle cx="425.72" cy="1067.56" r="5.3"/>
<circle cx="427.49" cy="1067.20" r="5.3"/>
<circle cx="429.26" cy="1066.88" r="5.3"/>
<circle cx="431.03" cy="1066.64" r="5.3"/>
<circle cx="432.80" cy="1066.39" r="5.3"/>
<circle cx="434.56" cy="1065.95" r="5.3"/>
<circle cx="436.33" cy="1065.49" r="5.3"/>
<circle cx="438.10" cy="1065.02" r="5.3"/>
<circle cx="439.87" cy="1064.51" r="5.3"/>
<circle cx="441.64" cy="1064.02" r="5.3"/>
<circle cx="443.41" cy="1063.61" r="5.3"/>
<circle cx="445.17" cy="1063.16" r="5.3"/>
<circle cx="446.94" cy="1062.35" r="5.3"/>
<circle cx="448.71" cy="1061.50" r="5.3"/>
<circle cx="450.48" cy="1060.68" r="5.3"/>
<circle cx="452.25" cy="1059.83" r="5.3"/>
<circle cx="454.02" cy="1059.02" r="5.3"/>
<circle cx="455.78" cy="1058.39" r="5.3"/>
<circle cx="457.55" cy="1057.73" r="5.3"/>
<circle cx="459.32" cy="1056.54" r="5.3"/>
<circle cx="461.09" cy="1055.31" r="5.3"/>
<circle cx="462.86" cy="1054.10" r="5.3"/>
<circle cx="464.63" cy="1052.86" r="5.3"/>
<circle cx="466.40" cy="1051.69" r="5.3"/>
<circle cx="468.16" cy="1050.79" r="5.3"/>
<circle cx="469.93" cy="1049.83" r="5.3"/>
<circle cx="471.70" cy="1048.11" r="5.3"/>
<circle cx="473.47" cy="1046.30" r="5.3"/>
<circle cx="475.24" cy="1044.53" r="5.3"/>
<circle cx="477.01" cy="1042.70" r="5.3"/>
<circle cx="478.77" cy="1040.95" r="5.3"/>
<circle cx="480.54" cy="1039.59" r="5.3"/>
<circle cx="482.31" cy="1038.09" r="5.3"/>
<circle cx="484.08" cy="1035.37" r="5.3"/>
<circle cx="485.85" cy="1032.52" r="5.3"/>
<circle cx="487.62" cy="1029.79" r="5.3"/>
<circle cx="489.38" cy="1027.06" r="5.3"/>
<circle cx="491.15" cy="1024.55" r="5.3"/>
<circle cx="492.92" cy="1022.55" r="5.3"/>
<circle cx="494.69" cy="1020.45" r="5.3"/>
<circle cx="496.46" cy="1016.95" r="5.3"/>
<circle cx="498.23" cy="1013.66" r="5.3"/>
<circle cx="499.99" cy="1010.96" r="5.3"/>
<circle cx="501.76" cy="1008.76" r="5.3"/>
<circle cx="503.53" cy="1007.05" r="5.3"/>
<circle cx="505.30" cy="1005.79" r="5.3"/>
<circle cx="507.07" cy="1004.47" r="5.3"/>
<circle cx="508.84" cy="1002.17" r="5.3"/>
<circle cx="510.61" cy="999.88" r="5.3"/>
<circle cx="512.37" cy="997.85" r="5.3"/>
<circle cx="514.14" cy="996.02" r="5.3"/>
<circle cx="515.91" cy="994.49" r="5.3"/>
<circle cx="517.68" cy="993.45" r="5.3"/>
<circle cx="519.45" cy="992.47" r="5.3"/>
<circle cx="521.22" cy="990.74" r="5.3"/>
<circle cx="522.98" cy="988.90" r="5.3"/>
<circle cx="524.75" cy="986.97" r="5.3"/>
<circle cx="526.52" cy="984.74" r="5.3"/>
<circle cx="528.29" cy="982.59" r="5.3"/>
<circle cx="530.06" cy="981.00" r="5.3"/>
<circle cx="531.83" cy="979.20" r="5.3"/>
<circle cx="533.59" cy="974.46" r="5.3"/>
<circle cx="535.36" cy="968.73" r="5.3"/>
<circle cx="537.13" cy="964.24" r="5.3"/>
<circle cx="538.90" cy="960.57" r="5.3"/>
<circle cx="540.67" cy="957.77" r="5.3"/>
<circle cx="542.44" cy="956.59" r="5.3"/>
<circle cx="544.21" cy="955.57" r="5.3"/>
<circle cx="545.97" cy="952.24" r="5.3"/>
<circle cx="547.74" cy="948.87" r="5.3"/>
<circle cx="549.51" cy="945.70" r="5.3"/>
<circle cx="551.28" cy="942.27" r="5.3"/>
<circle cx="553.05" cy="939.28" r="5.3"/>
<circle cx="554.82" cy="938.10" r="5.3"/>
<circle cx="556.58" cy="936.83" r="5.3"/>
<circle cx="558.35" cy="930.39" r="5.3"/>
<circle cx="560.12" cy="923.98" r="5.3"/>
<circle cx="561.89" cy="918.55" r="5.3"/>
<circle cx="563.66" cy="913.48" r="5.3"/>
<circle cx="565.43" cy="909.50" r="5.3"/>
<circle cx="567.19" cy="908.43" r="5.3"/>
<circle cx="568.96" cy="907.44" r="5.3"/>
<circle cx="570.73" cy="901.09" r="5.3"/>
<circle cx="572.50" cy="895.49" r="5.3"/>
<circle cx="574.27" cy="891.40" r="5.3"/>
<circle cx="576.04" cy="888.21" r="5.3"/>
<circle cx="577.80" cy="886.31" r="5.3"/>
<circle cx="579.57" cy="886.31" r="5.3"/>
<circle cx="581.34" cy="886.31" r="5.3"/>
<circle cx="583.11" cy="882.12" r="5.3"/>
<circle cx="584.88" cy="877.08" r="5.3"/>
<circle cx="586.65" cy="872.68" r="5.3"/>
<circle cx="588.42" cy="868.48" r="5.3"/>
<circle cx="590.18" cy="865.34" r="5.3"/>
<circle cx="591.95" cy="864.98" r="5.3"/>
<circle cx="593.72" cy="864.49" r="5.3"/>
<circle cx="595.49" cy="858.51" r="5.3"/>
<circle cx="597.26" cy="853.07" r="5.3"/>
<circle cx="599.03" cy="849.11" r="5.3"/>
<circle cx="600.79" cy="845.97" r="5.3"/>
<circle cx="602.56" cy="843.83" r="5.3"/>
<circle cx="604.33" cy="843.83" r="5.3"/>
<circle cx="606.10" cy="843.74" r="5.3"/>
<circle cx="607.87" cy="839.27" r="5.3"/>
<circle cx="609.64" cy="834.81" r="5.3"/>
<circle cx="611.40" cy="831.22" r="5.3"/>
<circle cx="613.17" cy="828.03" r="5.3"/>
<circle cx="614.94" cy="825.68" r="5.3"/>
<circle cx="616.71" cy="825.45" r="5.3"/>
<circle cx="618.48" cy="825.17" r="5.3"/>
<circle cx="620.25" cy="821.04" r="5.3"/>
<circle cx="622.01" cy="817.26" r="5.3"/>
<circle cx="623.78" cy="814.35" r="5.3"/>
<circle cx="625.55" cy="811.72" r="5.3"/>
<circle cx="627.32" cy="809.77" r="5.3"/>
<circle cx="629.09" cy="809.65" r="5.3"/>
<circle cx="630.86" cy="809.45" r="5.3"/>
<circle cx="632.63" cy="805.10" r="5.3"/>
<circle cx="634.39" cy="800.85" r="5.3"/>
<circle cx="636.16" cy="797.46" r="5.3"/>
<circle cx="637.93" cy="794.48" r="5.3"/>
<circle cx="639.70" cy="792.35" r="5.3"/>
<circle cx="641.47" cy="792.23" r="5.3"/>
<circle cx="643.24" cy="792.06" r="5.3"/>
<circle cx="645.00" cy="787.94" r="5.3"/>
<circle cx="646.77" cy="783.92" r="5.3"/>
<circle cx="648.54" cy="780.73" r="5.3"/>
<circle cx="650.31" cy="777.92" r="5.3"/>
<circle cx="652.08" cy="775.89" r="5.3"/>
<circle cx="653.85" cy="775.72" r="5.3"/>
<circle cx="655.61" cy="775.49" r="5.3"/>
<circle cx="657.38" cy="771.82" r="5.3"/>
<circle cx="659.15" cy="768.42" r="5.3"/>
<circle cx="660.92" cy="765.87" r="5.3"/>
<circle cx="662.69" cy="763.71" r="5.3"/>
<circle cx="664.46" cy="762.15" r="5.3"/>
<circle cx="666.22" cy="762.05" r="5.3"/>
<circle cx="667.99" cy="761.88" r="5.3"/>
<circle cx="669.76" cy="758.79" r="5.3"/>
<circle cx="671.53" cy="755.87" r="5.3"/>
<circle cx="673.30" cy="753.66" r="5.3"/>
<circle cx="675.07" cy="751.81" r="5.3"/>
<circle cx="676.84" cy="750.49" r="5.3"/>
<circle cx="678.60" cy="750.38" r="5.3"/>
<circle cx="680.37" cy="750.21" r="5.3"/>
<circle cx="682.14" cy="747.87" r="5.3"/>
<circle cx="683.91" cy="745.77" r="5.3"/>
<circle cx="685.68" cy="744.30" r="5.3"/>
<circle cx="687.45" cy="743.17" r="5.3"/>
<circle cx="689.21" cy="742.41" r="5.3"/>
<circle cx="690.98" cy="742.41" r="5.3"/>
<circle cx="692.75" cy="742.41" r="5.3"/>
<circle cx="694.52" cy="740.70" r="5.3"/>
<circle cx="696.29" cy="738.85" r="5.3"/>
<circle cx="698.06" cy="737.23" r="5.3"/>
<circle cx="699.82" cy="735.69" r="5.3"/>
<circle cx="701.59" cy="734.54" r="5.3"/>
<circle cx="703.36" cy="734.41" r="5.3"/>
<circle cx="705.13" cy="734.26" r="5.3"/>
<circle cx="706.90" cy="732.19" r="5.3"/>
<circle cx="708.67" cy="730.30" r="5.3"/>
<circle cx="710.43" cy="728.92" r="5.3"/>
<circle cx="712.20" cy="727.79" r="5.3"/>
<circle cx="713.97" cy="727.00" r="5.3"/>
<circle cx="715.74" cy="726.98" r="5.3"/>
<circle cx="717.51" cy="726.92" r="5.3"/>
<circle cx="719.28" cy="725.30" r="5.3"/>
<circle cx="721.05" cy="723.71" r="5.3"/>
<circle cx="722.81" cy="722.43" r="5.3"/>
<circle cx="724.58" cy="721.23" r="5.3"/>
<circle cx="726.35" cy="720.34" r="5.3"/>
<circle cx="728.12" cy="720.27" r="5.3"/>
<circle cx="729.89" cy="720.17" r="5.3"/>
<circle cx="731.66" cy="718.32" r="5.3"/>
<circle cx="733.42" cy="716.54" r="5.3"/>
<circle cx="735.19" cy="715.15" r="5.3"/>
<circle cx="736.96" cy="713.96" r="5.3"/>
<circle cx="738.73" cy="713.12" r="5.3"/>
<circle cx="740.50" cy="713.04" r="5.3"/>
<circle cx="742.27" cy="712.94" r="5.3"/>
<circle cx="744.03" cy="711.42" r="5.3"/>
<circle cx="745.80" cy="710.04" r="5.3"/>
<circle cx="747.57" cy="709.06" r="5.3"/>
<circle cx="749.34" cy="708.29" r="5.3"/>
<circle cx="751.11" cy="707.78" r="5.3"/>
<circle cx="752.88" cy="707.77" r="5.3"/>
<circle cx="754.64" cy="707.75" r="5.3"/>
<circle cx="756.41" cy="706.81" r="5.3"/>
<circle cx="758.18" cy="705.90" r="5.3"/>
<circle cx="759.95" cy="705.17" r="5.3"/>
<circle cx="761.72" cy="704.49" r="5.3"/>
<circle cx="763.49" cy="703.98" r="5.3"/>
<circle cx="765.26" cy="703.92" r="5.3"/>
<circle cx="767.02" cy="703.85" r="5.3"/>
<circle cx="768.79" cy="702.89" r="5.3"/>
<circle cx="770.56" cy="702.01" r="5.3"/>
<circle cx="772.33" cy="701.39" r="5.3"/>
<circle cx="774.10" cy="700.96" r="5.3"/>
<circle cx="775.87" cy="700.65" r="5.3"/>
<circle cx="777.63" cy="700.61" r="5.3"/>
</g>
<path d="M728 1144.80V593.10" stroke="#1f77b4" stroke-opacity="0.5" stroke-width="2.08" stroke-dasharray="7.708 3.333" fill="none"/>
</g>
<rect x="77.50" y="592.50" width="701.00" height="553.00" fill="none" stroke="#000" stroke-width="1.11" stroke-linejoin="miter"/>
<text x="68.58" y="1150.20" text-anchor="end">0</text>
<text x="68.58" y="1031.20" text-anchor="end">2000</text>
<text x="68.58" y="911.20" text-anchor="end">4000</text>
<text x="68.58" y="792.20" text-anchor="end">6000</text>
<text x="68.58" y="672.20" text-anchor="end">8000</text>
<text x="126.86" y="1165.82" text-anchor="middle">Apr</text>
<text x="179.91" y="1165.82" text-anchor="middle">May</text>
<text x="234.73" y="1165.82" text-anchor="middle">Jun</text>
<text x="287.79" y="1165.82" text-anchor="middle">Jul</text>
<text x="342.61" y="1165.82" text-anchor="middle">Aug</text>
<text x="397.43" y="1165.82" text-anchor="middle">Sep</text>
<text x="450.48" y="1165.82" text-anchor="middle">Oct</text>
<text x="505.30" y="1165.82" text-anchor="middle">Nov</text>
<text x="558.35" y="1165.82" text-anchor="middle">Dec</text>
<text x="613.17" y="1165.82" text-anchor="middle">Jan</text>
<text x="613.17" y="1181.37" text-anchor="middle">2021</text>
<text x="667.99" y="1165.82" text-anchor="middle">Feb</text>
<text x="717.51" y="1165.82" text-anchor="middle">Mar</text>
<text x="772.33" y="1165.82" text-anchor="middle">Apr</text>
<path d="M77.50 1145.50h-4.86M77.50 1026.50h-4.86M77.50 906.50h-4.86M77.50 787.50h-4.86M77.50 667.50h-4.86M77.50 1145.50v4.86M86.50 1145.50v2.78M99.50 1145.50v2.78M111.50 1145.50v2.78M123.50 1145.50v2.78M127.50 1145.50v4.86M136.50 1145.50v2.78M148.50 1145.50v2.78M160.50 1145.50v2.78M173.50 1145.50v2.78M180.50 1145.50v4.86M185.50 1145.50v2.78M198.50 1145.50v2.78M210.50 1145.50v2.78M222.50 1145.50v2.78M235.50 1145.50v4.86M247.50 1145.50v2.78M259.50 1145.50v2.78M272.50 1145.50v2.78M284.50 1145.50v2.78M288.50 1145.50v4.86M297.50 1145.50v2.78M309.50 1145.50v2.78M321.50 1145.50v2.78M334.50 1145.50v2.78M343.50 1145.50v4.86M346.50 1145.50v2.78M359.50 1145.50v2.78M371.50 1145.50v2.78M383.50 1145.50v2.78M396.50 1145.50v2.78M397.50 1145.50v4.86M408.50 1145.50v2.78M420.50 1145.50v2.78M433.50 1145.50v2.78M445.50 1145.50v2.78M450.50 1145.50v4.86M458.50 1145.50v2.78M470.50 1145.50v2.78M482.50 1145.50v2.78M495.50 1145.50v2.78M505.50 1145.50v4.86M507.50 1145.50v2.78M519.50 1145.50v2.78M532.50 1145.50v2.78M544.50 1145.50v2.78M557.50 1145.50v2.78M558.50 1145.50v4.86M569.50 1145.50v2.78M581.50 1145.50v2.78M594.50 1145.50v2.78M606.50 1145.50v2.78M613.50 1145.50v4.86M618.50 1145.50v2.78M631.50 1145.50v2.78M643.50 1145.50v2.78M656.50 1145.50v2.78M668.50 1145.50v4.86M680.50 1145.50v2.78M693.50 1145.50v2.78M705.50 1145.50v2.78M718.50 1145.50v4.86M730.50 1145.50v2.78M742.50 1145.50v2.78M755.50 1145.50v2.78M767.50 1145.50v2.78M772.50 1145.50v4.86M778.50 1145.50v4.86" stroke="#000" stroke-width="1.11" fill="none"/>
<rect x="84.29" y="599.38" width="98.11" height="25.00" rx="2.78" ry="2.78" fill="#fff" fill-opacity="0.8" stroke="#ccc" stroke-opacity="0.8" stroke-width="1.39"/>
<path d="M89.85 609.89h27.78" stroke="#1f77b4" stroke-width="2.08" stroke-linecap="square" fill="none"/>
<text x="128.74" y="614.49">deaths</text>
<text x="397.5" y="35.9" text-anchor="middle" font-size="16.67px">Wisconsin 28 days</text>
</svg>
</body></html>
